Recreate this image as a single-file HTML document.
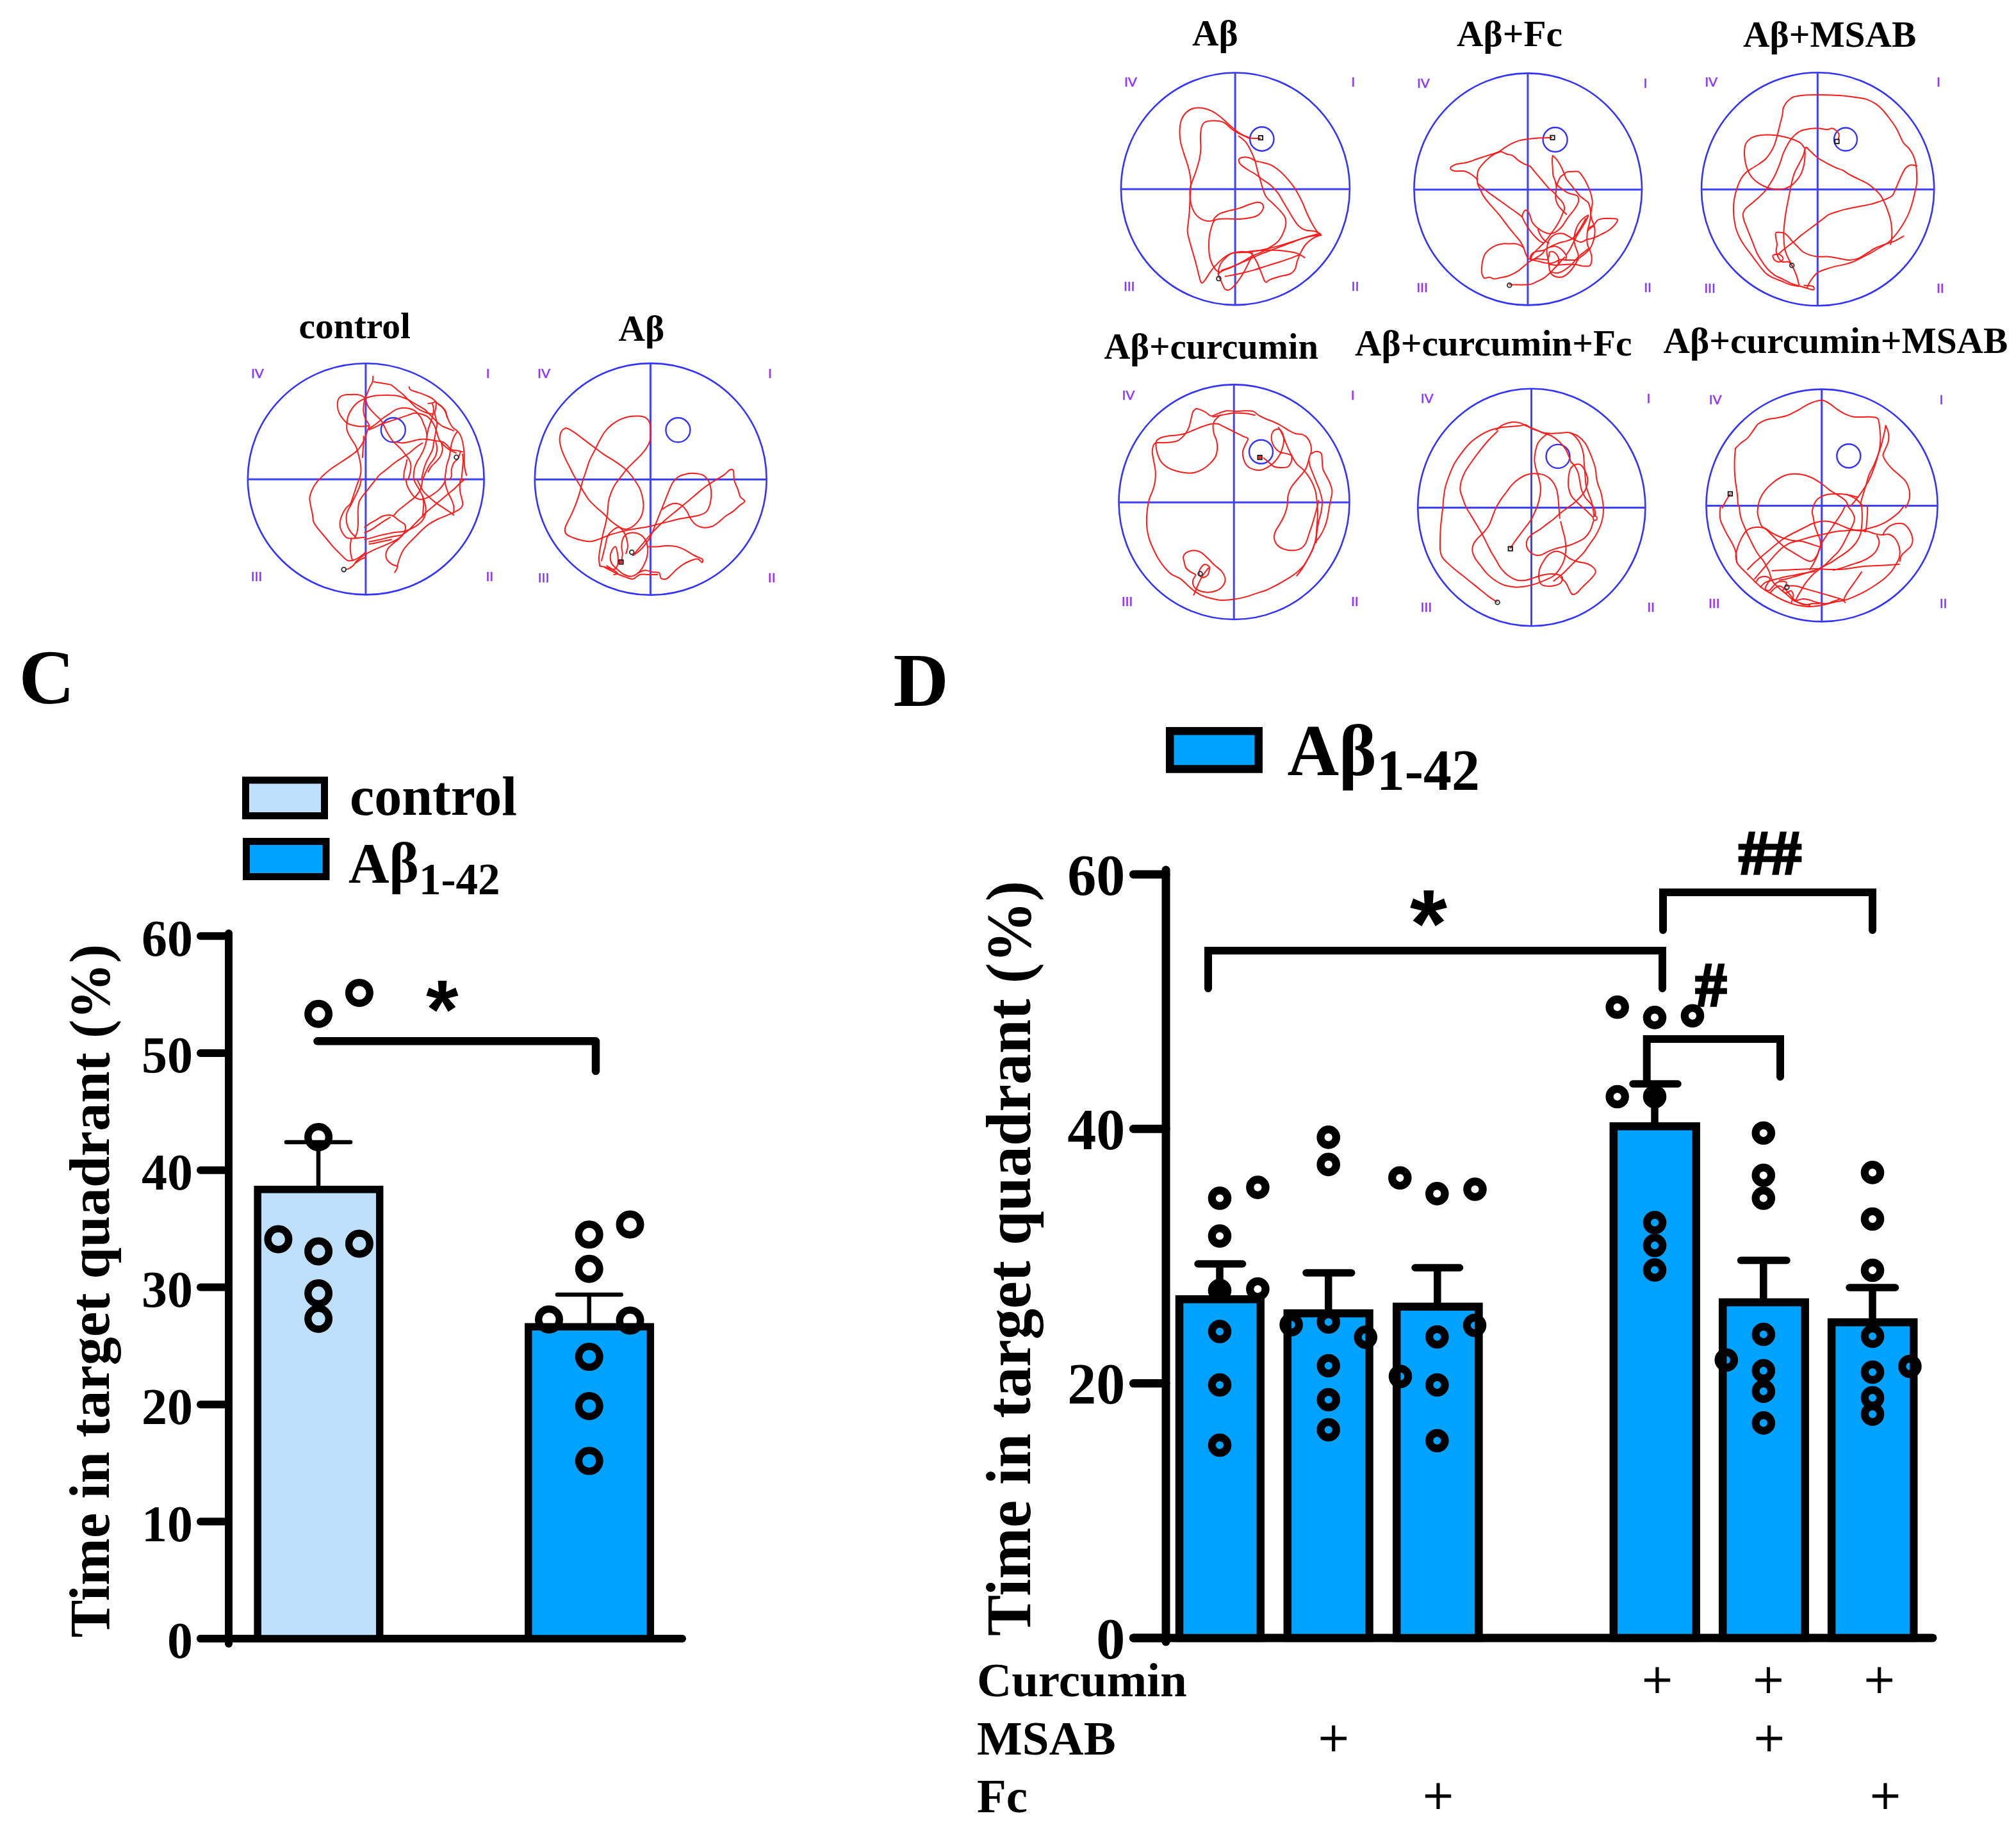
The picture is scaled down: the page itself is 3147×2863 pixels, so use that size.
<!DOCTYPE html>
<html lang="en"><head><meta charset="utf-8"><title>Figure</title>
<style>
html,body{margin:0;padding:0;background:#fff;}
body{width:3147px;height:2863px;overflow:hidden;}
svg{display:block;}
.sf{font-family:"Liberation Serif", "DejaVu Serif", serif;}
.ss{font-family:"Liberation Sans", "DejaVu Sans", sans-serif;}
</style></head><body>
<svg width="3147" height="2863" viewBox="0 0 3147 2863">
<rect width="3147" height="2863" fill="#fff"/>
<g id="mazes">
<g class="maze">
<ellipse cx="571.2" cy="747.8" rx="184.4" ry="180.6" fill="none" stroke="#3333ff" stroke-width="2.6"/>
<path d="M386.80000000000007,748.3H755.6M570.9000000000001,567.1999999999999V928.4" stroke="#4040ff" stroke-width="3.0" fill="none"/>
<circle cx="613.8" cy="671.3" r="19" fill="none" stroke="#3333ff" stroke-width="2.4"/>
<path d="M582.3,587.4C582.2,588.8 582.3,593.1 581.5,596.0C580.6,598.9 578.6,601.5 577.1,604.7C575.7,607.9 574.1,612.0 572.8,615.1C571.5,618.3 570.2,620.6 569.3,623.8C568.4,627.0 567.9,630.8 567.6,634.2C567.3,637.7 567.0,641.2 567.6,644.7C568.1,648.1 569.6,651.9 571.0,655.1C572.5,658.3 576.0,660.6 576.2,663.8C576.5,666.9 573.9,670.7 572.8,674.2C571.6,677.6 570.8,681.1 569.3,684.6C567.9,688.1 566.1,691.8 564.1,695.0C562.1,698.2 559.8,701.1 557.2,703.7C554.5,706.3 551.7,708.3 548.5,710.6C545.3,712.9 541.5,715.3 538.1,717.6C534.6,719.9 531.1,722.2 527.6,724.5C524.2,726.8 520.7,728.9 517.2,731.5C513.8,734.1 510.0,737.2 506.8,740.1C503.6,743.0 499.6,747.4 498.1,748.8" fill="none" stroke="#ff1a1a" stroke-width="2" stroke-linejoin="round" stroke-linecap="round"/>
<path d="M583.2,596.0C584.9,596.3 590.1,597.2 593.6,597.8C597.1,598.4 601.1,598.9 604.0,599.5C606.9,600.1 608.4,599.8 611.0,601.2C613.6,602.7 616.8,605.9 619.7,608.2C622.5,610.5 625.7,612.8 628.3,615.1C630.9,617.5 633.0,619.8 635.3,622.1C637.6,624.4 639.9,626.7 642.2,629.0C644.5,631.3 646.6,633.9 649.2,636.0C651.8,638.0 655.0,639.7 657.8,641.2C660.7,642.6 663.6,643.8 666.5,644.7C669.4,645.5 673.8,646.1 675.2,646.4" fill="none" stroke="#ff1a1a" stroke-width="2" stroke-linejoin="round" stroke-linecap="round"/>
<path d="M638.8,603.9C639.0,604.6 638.8,606.9 640.5,608.2C642.2,609.5 646.0,610.5 649.2,611.7C652.3,612.8 656.1,613.8 659.6,615.1C663.1,616.4 667.1,618.0 670.0,619.5C672.9,620.9 674.9,622.2 676.9,623.8C679.0,625.4 680.1,627.3 682.2,629.0C684.2,630.8 687.1,632.2 689.1,634.2C691.1,636.3 692.9,638.6 694.3,641.2C695.8,643.8 696.6,647.0 697.8,649.9C698.9,652.8 699.8,655.6 701.2,658.5C702.7,661.4 704.4,664.9 706.5,667.2C708.5,669.5 711.4,670.4 713.4,672.4C715.4,674.5 717.2,676.5 718.6,679.4C720.1,682.3 721.2,686.3 722.1,689.8C723.0,693.3 723.4,696.7 723.8,700.2C724.3,703.7 724.5,707.2 724.7,710.6C724.8,714.1 724.5,717.6 724.7,721.0C724.8,724.5 725.0,728.0 725.6,731.5C726.1,734.9 727.7,740.1 728.2,741.9" fill="none" stroke="#ff1a1a" stroke-width="2" stroke-linejoin="round" stroke-linecap="round"/>
<path d="M571.0,622.1C569.9,621.4 566.4,618.8 564.1,617.7C561.8,616.7 560.0,616.3 557.2,616.0C554.3,615.7 550.2,615.9 546.7,616.0C543.3,616.2 539.2,616.0 536.3,616.9C533.4,617.7 531.0,619.2 529.4,621.2C527.8,623.2 527.1,626.0 526.8,629.0C526.5,632.1 526.9,636.3 527.6,639.4C528.4,642.6 529.7,645.5 531.1,648.1C532.6,650.7 534.6,653.0 536.3,655.1C538.1,657.1 539.2,658.8 541.5,660.3C543.8,661.7 547.3,662.9 550.2,663.8C553.1,664.6 555.7,665.2 558.9,665.5C562.1,665.8 566.4,665.6 569.3,665.5C572.2,665.3 575.1,664.8 576.2,664.6" fill="none" stroke="#ff1a1a" stroke-width="2" stroke-linejoin="round" stroke-linecap="round"/>
<path d="M541.5,660.3C541.8,658.5 542.1,653.3 543.3,649.9C544.4,646.4 546.4,642.6 548.5,639.4C550.5,636.3 552.8,633.2 555.4,630.8C558.0,628.3 560.9,626.4 564.1,624.7C567.3,623.0 571.0,621.5 574.5,620.3C578.0,619.2 581.2,618.3 584.9,617.7C588.7,617.2 593.0,617.0 597.1,616.9C601.1,616.7 605.5,616.7 609.2,616.9C613.0,617.0 616.5,617.2 619.7,617.7C622.8,618.3 625.4,619.3 628.3,620.3C631.2,621.4 634.1,622.4 637.0,623.8C639.9,625.3 642.8,627.3 645.7,629.0C648.6,630.8 651.5,632.5 654.4,634.2C657.3,636.0 660.5,637.4 663.1,639.4C665.7,641.5 667.7,644.1 670.0,646.4C672.3,648.7 674.6,651.0 676.9,653.3C679.3,655.6 681.6,658.3 683.9,660.3C686.2,662.3 688.2,664.0 690.8,665.5C693.4,666.9 696.6,667.8 699.5,669.0C702.4,670.1 706.7,671.9 708.2,672.4" fill="none" stroke="#ff1a1a" stroke-width="2" stroke-linejoin="round" stroke-linecap="round"/>
<path d="M541.5,660.3C541.5,662.0 540.9,667.5 541.5,670.7C542.1,673.9 543.6,676.5 545.0,679.4C546.4,682.3 548.5,685.2 550.2,688.1C551.9,690.9 554.0,693.6 555.4,696.7C556.9,699.9 557.9,703.7 558.9,707.2C559.9,710.6 560.8,714.1 561.5,717.6C562.2,721.0 562.9,724.5 563.2,728.0C563.5,731.5 563.7,734.9 563.2,738.4C562.8,741.9 561.1,747.1 560.6,748.8" fill="none" stroke="#ff1a1a" stroke-width="2" stroke-linejoin="round" stroke-linecap="round"/>
<path d="M571.0,625.6C571.6,627.0 572.8,631.3 574.5,634.2C576.2,637.1 579.1,640.3 581.5,642.9C583.8,645.5 586.1,647.5 588.4,649.9C590.7,652.2 593.3,653.9 595.3,656.8C597.4,659.7 598.8,663.8 600.6,667.2C602.3,670.7 603.7,674.2 605.8,677.6C607.8,681.1 610.4,685.2 612.7,688.1C615.0,690.9 617.3,692.7 619.7,695.0C622.0,697.3 624.3,699.3 626.6,701.9C628.9,704.5 631.5,708.0 633.5,710.6C635.6,713.2 637.4,715.0 638.8,717.6C640.1,720.2 641.1,723.1 641.4,726.2C641.6,729.4 641.2,732.9 640.5,736.7C639.8,740.4 637.6,746.8 637.0,748.8" fill="none" stroke="#ff1a1a" stroke-width="2" stroke-linejoin="round" stroke-linecap="round"/>
<path d="M576.2,669.0C578.0,667.8 583.2,664.6 586.7,662.0C590.1,659.4 593.6,655.9 597.1,653.3C600.6,650.7 604.0,648.7 607.5,646.4C611.0,644.1 614.4,641.0 617.9,639.4C621.4,637.9 624.9,637.1 628.3,636.8C631.8,636.6 635.6,637.0 638.8,637.7C641.9,638.4 645.1,639.7 647.4,641.2C649.7,642.6 650.9,644.4 652.6,646.4C654.4,648.4 656.4,650.7 657.8,653.3C659.3,655.9 660.2,659.1 661.3,662.0C662.5,664.9 663.9,667.5 664.8,670.7C665.7,673.9 666.5,677.6 666.5,681.1C666.5,684.6 665.7,688.1 664.8,691.5C663.9,695.0 662.8,698.5 661.3,701.9C659.9,705.4 657.8,709.2 656.1,712.4C654.4,715.5 652.3,718.1 650.9,721.0C649.5,723.9 648.3,726.5 647.4,729.7C646.6,732.9 646.0,737.0 645.7,740.1C645.4,743.3 645.7,747.4 645.7,748.8" fill="none" stroke="#ff1a1a" stroke-width="2" stroke-linejoin="round" stroke-linecap="round"/>
<path d="M576.2,670.7C577.7,670.1 581.7,668.7 584.9,667.2C588.1,665.8 591.9,663.5 595.3,662.0C598.8,660.6 602.3,659.7 605.8,658.5C609.2,657.4 612.7,656.2 616.2,655.1C619.7,653.9 623.1,652.8 626.6,651.6C630.1,650.4 633.5,649.3 637.0,648.1C640.5,647.0 644.0,644.9 647.4,644.7C650.9,644.4 654.7,645.5 657.8,646.4C661.0,647.3 663.9,648.1 666.5,649.9C669.1,651.6 671.4,654.2 673.5,656.8C675.5,659.4 677.2,662.3 678.7,665.5C680.1,668.7 681.0,672.4 682.2,675.9C683.3,679.4 683.9,683.1 685.6,686.3C687.4,689.5 690.0,692.4 692.6,695.0C695.2,697.6 698.1,699.9 701.2,701.9C704.4,704.0 709.9,706.3 711.7,707.2" fill="none" stroke="#ff1a1a" stroke-width="2" stroke-linejoin="round" stroke-linecap="round"/>
<path d="M617.9,689.8C619.7,690.1 624.9,691.5 628.3,691.5C631.8,691.5 635.3,690.5 638.8,689.8C642.2,689.1 645.7,687.9 649.2,687.2C652.6,686.5 656.1,685.6 659.6,685.5C663.1,685.3 666.5,685.9 670.0,686.3C673.5,686.8 676.9,687.5 680.4,688.1C683.9,688.6 687.9,688.6 690.8,689.8C693.7,690.9 695.5,693.0 697.8,695.0C700.1,697.0 701.8,700.5 704.7,701.9C707.6,703.4 712.2,703.1 715.1,703.7C718.0,704.3 720.9,705.1 722.1,705.4" fill="none" stroke="#ff1a1a" stroke-width="2" stroke-linejoin="round" stroke-linecap="round"/>
<path d="M668.3,629.9C669.4,629.8 673.2,629.5 675.2,629.0C677.2,628.6 679.5,626.1 680.4,627.3C681.3,628.4 680.7,633.1 680.4,636.0C680.1,638.9 678.7,641.8 678.7,644.7C678.7,647.5 679.8,650.4 680.4,653.3C681.0,656.2 682.2,658.8 682.2,662.0C682.2,665.2 681.0,669.0 680.4,672.4C679.8,675.9 679.3,679.7 678.7,682.8C678.1,686.0 677.5,688.3 676.9,691.5C676.4,694.7 676.4,698.5 675.2,701.9C674.1,705.4 671.7,708.9 670.0,712.4C668.3,715.8 666.2,719.3 664.8,722.8C663.3,726.2 662.5,728.9 661.3,733.2C660.2,737.5 658.4,746.2 657.8,748.8" fill="none" stroke="#ff1a1a" stroke-width="2" stroke-linejoin="round" stroke-linecap="round"/>
<path d="M675.2,630.8C675.5,632.2 676.9,636.3 676.9,639.4C676.9,642.6 676.1,646.4 675.2,649.9C674.3,653.3 672.9,656.8 671.7,660.3C670.6,663.8 669.1,667.2 668.3,670.7C667.4,674.2 666.8,679.4 666.5,681.1" fill="none" stroke="#ff1a1a" stroke-width="2" stroke-linejoin="round" stroke-linecap="round"/>
<path d="M683.9,630.8C685.0,631.6 688.8,633.9 690.8,636.0C692.9,638.0 694.9,640.3 696.0,642.9C697.2,645.5 697.5,650.2 697.8,651.6" fill="none" stroke="#ff1a1a" stroke-width="2" stroke-linejoin="round" stroke-linecap="round"/>
<path d="M713.4,674.2C712.5,675.6 709.6,679.7 708.2,682.8C706.7,686.0 705.6,689.8 704.7,693.3C703.9,696.7 703.6,700.2 703.0,703.7C702.4,707.2 702.1,710.6 701.2,714.1C700.4,717.6 698.6,721.0 697.8,724.5C696.9,728.0 696.6,730.9 696.0,734.9C695.5,739.0 694.6,746.5 694.3,748.8" fill="none" stroke="#ff1a1a" stroke-width="2" stroke-linejoin="round" stroke-linecap="round"/>
<path d="M718.6,705.4C718.0,707.2 716.9,712.9 715.1,715.8C713.4,718.7 709.9,719.9 708.2,722.8C706.5,725.7 705.3,729.7 704.7,733.2C704.1,736.7 705.3,741.0 704.7,743.6C704.1,746.2 701.8,748.0 701.2,748.8" fill="none" stroke="#ff1a1a" stroke-width="2" stroke-linejoin="round" stroke-linecap="round"/>
<path d="M680.4,689.8C680.7,691.5 682.2,696.7 682.2,700.2C682.2,703.7 681.6,707.4 680.4,710.6C679.3,713.8 676.9,716.7 675.2,719.3C673.5,721.9 671.7,723.4 670.0,726.2C668.3,729.1 666.5,732.9 664.8,736.7C663.1,740.4 660.5,746.8 659.6,748.8" fill="none" stroke="#ff1a1a" stroke-width="2" stroke-linejoin="round" stroke-linecap="round"/>
<path d="M659.6,691.5C657.8,692.7 652.6,695.9 649.2,698.5C645.7,701.1 642.2,704.5 638.8,707.2C635.3,709.8 631.8,711.8 628.3,714.1C624.9,716.4 621.1,718.7 617.9,721.0C614.7,723.4 612.1,725.7 609.2,728.0C606.3,730.3 603.4,732.6 600.6,734.9C597.7,737.2 594.2,739.6 591.9,741.9C589.6,744.2 587.5,747.7 586.7,748.8" fill="none" stroke="#ff1a1a" stroke-width="2" stroke-linejoin="round" stroke-linecap="round"/>
<path d="M689.1,691.5C689.4,693.3 691.1,698.5 690.8,701.9C690.5,705.4 689.1,709.2 687.4,712.4C685.6,715.5 682.7,718.4 680.4,721.0C678.1,723.6 675.5,725.4 673.5,728.0C671.4,730.6 669.1,735.2 668.3,736.7" fill="none" stroke="#ff1a1a" stroke-width="2" stroke-linejoin="round" stroke-linecap="round"/>
<path d="M630.1,748.8C630.2,746.8 630.4,740.4 630.9,736.7C631.5,732.9 632.8,729.4 633.5,726.2C634.3,723.1 635.0,719.0 635.3,717.6" fill="none" stroke="#ff1a1a" stroke-width="2" stroke-linejoin="round" stroke-linecap="round"/>
<path d="M567.6,681.1C567.6,682.8 567.7,688.1 567.6,691.5C567.4,695.0 567.0,698.2 566.7,701.9C566.4,705.7 566.0,712.1 565.8,714.1" fill="none" stroke="#ff1a1a" stroke-width="2" stroke-linejoin="round" stroke-linecap="round"/>
<path d="M722.1,708.9C722.2,710.6 723.0,715.8 723.0,719.3C723.0,722.8 722.4,726.2 722.1,729.7C721.8,733.2 721.5,737.0 721.2,740.1C720.9,743.3 720.5,747.4 720.3,748.8" fill="none" stroke="#ff1a1a" stroke-width="2" stroke-linejoin="round" stroke-linecap="round"/>
<path d="M498.1,748.1C497.0,749.6 493.2,753.9 491.2,757.2C489.2,760.4 487.3,764.1 486.0,767.6C484.7,771.0 483.5,774.2 483.4,778.0C483.2,781.7 484.4,786.1 485.1,790.1C485.8,794.2 487.0,798.2 487.7,802.3C488.4,806.3 488.3,811.0 489.4,814.4C490.6,817.9 492.3,819.9 494.7,823.1C497.0,826.3 500.4,830.1 503.3,833.5C506.2,837.0 509.1,840.5 512.0,844.0C514.9,847.4 517.8,851.2 520.7,854.4C523.6,857.6 526.5,860.2 529.4,863.1C532.3,865.9 535.7,869.7 538.1,871.7C540.4,873.8 540.9,874.8 543.3,875.2C545.6,875.6 549.1,875.2 551.9,874.3C554.8,873.5 558.0,871.6 560.6,870.0C563.2,868.4 565.8,866.2 567.6,864.8C569.3,863.3 570.5,861.9 571.0,861.3" fill="none" stroke="#ff1a1a" stroke-width="2" stroke-linejoin="round" stroke-linecap="round"/>
<path d="M560.6,748.1C560.0,749.6 558.3,753.9 557.2,757.2C556.0,760.4 554.8,764.1 553.7,767.6C552.5,771.0 551.4,774.8 550.2,778.0C549.1,781.2 548.5,784.1 546.7,786.7C545.0,789.3 541.8,791.0 539.8,793.6C537.8,796.2 536.0,799.1 534.6,802.3C533.1,805.5 531.7,809.2 531.1,812.7C530.5,816.2 530.5,819.9 531.1,823.1C531.7,826.3 532.8,829.1 534.6,831.8C536.3,834.6 538.6,838.2 541.5,839.6C544.4,841.1 548.5,840.5 551.9,840.5C555.4,840.5 559.5,839.9 562.4,839.6C565.3,839.3 568.1,838.9 569.3,838.8" fill="none" stroke="#ff1a1a" stroke-width="2" stroke-linejoin="round" stroke-linecap="round"/>
<path d="M564.1,748.1C563.7,749.9 562.7,755.4 561.5,758.9C560.3,762.4 558.7,765.8 557.2,769.3C555.6,772.8 553.7,776.2 551.9,779.7C550.2,783.2 548.5,786.7 546.7,790.1C545.0,793.6 542.5,796.8 541.5,800.6C540.5,804.3 540.4,808.9 540.7,812.7C540.9,816.5 542.0,819.9 543.3,823.1C544.6,826.3 546.4,829.2 548.5,831.8C550.5,834.4 554.3,837.6 555.4,838.8" fill="none" stroke="#ff1a1a" stroke-width="2" stroke-linejoin="round" stroke-linecap="round"/>
<path d="M586.7,748.1C585.5,749.6 582.0,754.2 579.7,757.2C577.4,760.1 575.1,762.9 572.8,765.8C570.5,768.7 567.9,771.6 565.8,774.5C563.8,777.4 561.8,779.7 560.6,783.2C559.5,786.7 559.2,791.3 558.9,795.3C558.6,799.4 558.9,803.4 558.9,807.5C558.9,811.6 559.2,815.6 558.9,819.7C558.6,823.7 558.0,828.6 557.2,831.8C556.3,835.0 554.3,837.6 553.7,838.8" fill="none" stroke="#ff1a1a" stroke-width="2" stroke-linejoin="round" stroke-linecap="round"/>
<path d="M569.3,823.1C570.5,822.3 573.4,819.8 576.2,817.9C579.1,816.0 583.2,813.9 586.7,811.8C590.1,809.8 593.6,807.1 597.1,805.8C600.6,804.5 604.6,804.0 607.5,804.0C610.4,804.0 611.8,804.3 614.4,805.8C617.0,807.2 620.2,810.5 623.1,812.7C626.0,814.9 630.2,816.5 631.8,818.8C633.4,821.1 633.3,823.8 632.7,826.6C632.1,829.3 630.5,832.7 628.3,835.3C626.2,837.9 622.8,840.2 619.7,842.2C616.5,844.2 613.0,845.7 609.2,847.4C605.5,849.2 601.1,850.9 597.1,852.6C593.0,854.4 588.7,856.1 584.9,857.8C581.2,859.6 577.7,861.3 574.5,863.1C571.3,864.8 568.7,866.2 565.8,868.3C562.9,870.3 559.5,872.9 557.2,875.2C554.8,877.5 554.0,880.1 551.9,882.2C549.9,884.2 547.0,886.2 545.0,887.4C543.0,888.5 540.7,888.8 539.8,889.1" fill="none" stroke="#ff1a1a" stroke-width="2" stroke-linejoin="round" stroke-linecap="round"/>
<path d="M614.4,804.9C615.6,803.6 618.8,799.5 621.4,797.1C624.0,794.6 627.2,792.5 630.1,790.1C633.0,787.8 635.9,785.5 638.8,783.2C641.6,780.9 644.8,778.9 647.4,776.2C650.0,773.6 652.6,770.5 654.4,767.6C656.1,764.7 657.0,762.1 657.8,758.9C658.7,755.6 659.3,749.9 659.6,748.1" fill="none" stroke="#ff1a1a" stroke-width="2" stroke-linejoin="round" stroke-linecap="round"/>
<path d="M569.3,831.8C571.0,830.9 576.2,828.6 579.7,826.6C583.2,824.6 586.7,822.0 590.1,819.7C593.6,817.3 597.4,814.7 600.6,812.7C603.7,810.7 607.8,808.4 609.2,807.5" fill="none" stroke="#ff1a1a" stroke-width="2" stroke-linejoin="round" stroke-linecap="round"/>
<path d="M569.3,842.2C571.0,841.8 576.0,840.6 579.7,839.6C583.5,838.6 587.8,837.2 591.9,836.1C595.9,835.1 600.0,834.4 604.0,833.5C608.1,832.7 612.1,831.5 616.2,830.9C620.2,830.4 624.6,830.8 628.3,830.1C632.1,829.3 635.3,828.0 638.8,826.6C642.2,825.2 646.0,823.4 649.2,821.4C652.3,819.4 655.5,817.0 657.8,814.4C660.2,811.8 661.9,808.9 663.1,805.8C664.2,802.6 664.8,798.8 664.8,795.3C664.8,791.9 663.9,788.4 663.1,784.9C662.2,781.5 661.0,778.0 659.6,774.5C658.1,771.0 656.1,767.3 654.4,764.1C652.6,760.9 650.6,758.1 649.2,755.4C647.7,752.8 646.3,749.3 645.7,748.1" fill="none" stroke="#ff1a1a" stroke-width="2" stroke-linejoin="round" stroke-linecap="round"/>
<path d="M576.2,845.7C578.6,845.3 585.5,844.1 590.1,843.1C594.8,842.1 599.7,840.6 604.0,839.6C608.4,838.6 612.4,837.7 616.2,837.0C619.9,836.3 623.1,836.7 626.6,835.3C630.1,833.8 633.5,831.2 637.0,828.3C640.5,825.4 644.0,821.4 647.4,817.9C650.9,814.4 654.4,811.0 657.8,807.5C661.3,804.0 664.8,800.3 668.3,797.1C671.7,793.9 675.2,791.3 678.7,788.4C682.2,785.5 685.6,782.6 689.1,779.7C692.6,776.8 696.0,773.9 699.5,771.0C703.0,768.1 706.7,765.3 709.9,762.4C713.1,759.5 716.0,756.1 718.6,753.7C721.2,751.3 724.4,749.1 725.6,748.1" fill="none" stroke="#ff1a1a" stroke-width="2" stroke-linejoin="round" stroke-linecap="round"/>
<path d="M633.5,748.1C633.8,749.6 634.1,753.9 635.3,757.2C636.4,760.4 638.5,764.4 640.5,767.6C642.5,770.8 644.5,774.2 647.4,776.2C650.3,778.3 654.4,779.7 657.8,779.7C661.3,779.7 665.1,777.7 668.3,776.2C671.4,774.8 674.1,773.1 676.9,771.0C679.8,769.0 683.0,766.7 685.6,764.1C688.2,761.5 690.8,758.1 692.6,755.4C694.3,752.8 695.5,749.3 696.0,748.1" fill="none" stroke="#ff1a1a" stroke-width="2" stroke-linejoin="round" stroke-linecap="round"/>
<path d="M650.9,748.1C651.8,749.9 654.4,755.6 656.1,758.9C657.8,762.1 659.0,764.7 661.3,767.6C663.6,770.5 666.8,773.4 670.0,776.2C673.2,779.1 676.9,782.3 680.4,784.9C683.9,787.5 687.4,789.6 690.8,791.9C694.3,794.2 698.4,796.8 701.2,798.8C704.1,800.8 707.0,803.2 708.2,804.0" fill="none" stroke="#ff1a1a" stroke-width="2" stroke-linejoin="round" stroke-linecap="round"/>
<path d="M718.6,748.1C718.5,749.9 717.7,755.4 717.7,758.9C717.7,762.4 718.0,765.8 718.6,769.3C719.2,772.8 720.6,776.5 721.2,779.7C721.8,782.9 722.8,785.8 722.1,788.4C721.4,791.0 719.5,793.3 716.9,795.3C714.3,797.4 710.2,798.8 706.5,800.6C702.7,802.3 698.4,804.0 694.3,805.8C690.3,807.5 686.2,808.9 682.2,811.0C678.1,813.0 673.8,815.3 670.0,817.9C666.2,820.5 663.1,823.4 659.6,826.6C656.1,829.8 652.6,833.5 649.2,837.0C645.7,840.5 641.9,844.0 638.8,847.4C635.6,850.9 632.4,854.4 630.1,857.8C627.8,861.3 626.3,864.8 624.9,868.3C623.4,871.7 622.3,875.5 621.4,878.7C620.5,881.9 620.5,884.9 619.7,887.4C618.8,889.8 616.8,892.4 616.2,893.4" fill="none" stroke="#ff1a1a" stroke-width="2" stroke-linejoin="round" stroke-linecap="round"/>
<path d="M694.3,748.1C694.6,749.9 695.2,755.4 696.0,758.9C696.9,762.4 698.1,765.8 699.5,769.3C701.0,772.8 703.3,776.2 704.7,779.7C706.2,783.2 707.6,786.7 708.2,790.1C708.8,793.6 708.2,798.8 708.2,800.6" fill="none" stroke="#ff1a1a" stroke-width="2" stroke-linejoin="round" stroke-linecap="round"/>
<path d="M619.7,883.9C618.2,883.3 613.6,882.2 611.0,880.4C608.4,878.7 605.5,876.1 604.0,873.5C602.6,870.9 602.0,867.7 602.3,864.8C602.6,861.9 604.0,858.7 605.8,856.1C607.5,853.5 610.1,851.5 612.7,849.2C615.3,846.9 618.8,844.5 621.4,842.2C624.0,839.9 627.2,836.4 628.3,835.3" fill="none" stroke="#ff1a1a" stroke-width="2" stroke-linejoin="round" stroke-linecap="round"/>
<path d="M548.5,840.5C548.2,842.5 546.9,848.6 546.7,852.6C546.6,856.7 547.0,861.0 547.6,864.8C548.2,868.6 549.8,873.5 550.2,875.2" fill="none" stroke="#ff1a1a" stroke-width="2" stroke-linejoin="round" stroke-linecap="round"/>
<path d="M659.6,774.5C659.9,776.2 661.2,781.2 661.3,784.9C661.5,788.7 660.7,793.3 660.5,797.1C660.2,800.8 659.7,805.8 659.6,807.5" fill="none" stroke="#ff1a1a" stroke-width="2" stroke-linejoin="round" stroke-linecap="round"/>
<path d="M571.0,870.0C569.6,870.6 565.0,872.0 562.4,873.5C559.8,874.9 556.6,877.8 555.4,878.7" fill="none" stroke="#ff1a1a" stroke-width="2" stroke-linejoin="round" stroke-linecap="round"/>
<path d="M576.2,849.2C578.0,848.9 582.9,848.2 586.7,847.4C590.4,846.7 594.8,845.7 598.8,844.8C602.9,844.0 608.9,842.7 611.0,842.2" fill="none" stroke="#ff1a1a" stroke-width="2" stroke-linejoin="round" stroke-linecap="round"/>
<circle cx="712.5" cy="713.8" r="3.4" fill="none" stroke="#233" stroke-width="1.8"/>
<circle cx="536.7" cy="889.1" r="3.4" fill="none" stroke="#233" stroke-width="1.8"/>
<text class="ss" x="401.8" y="589.7" font-size="21" font-weight="normal" text-anchor="middle" fill="#8a2eff" stroke="#8a2eff" stroke-width="0.5">IV</text>
<text class="ss" x="761.6" y="589.7" font-size="21" font-weight="normal" text-anchor="middle" fill="#8a2eff" stroke="#8a2eff" stroke-width="0.5">I</text>
<text class="ss" x="400.4" y="907.2" font-size="21" font-weight="normal" text-anchor="middle" fill="#8a2eff" stroke="#8a2eff" stroke-width="0.5">III</text>
<text class="ss" x="764.3" y="907.2" font-size="21" font-weight="normal" text-anchor="middle" fill="#8a2eff" stroke="#8a2eff" stroke-width="0.5">II</text>
</g>
<g class="maze">
<ellipse cx="1015.7" cy="748.0" rx="180.9" ry="180.9" fill="none" stroke="#3333ff" stroke-width="2.6"/>
<path d="M834.8000000000001,748.5H1196.6000000000001M1015.4000000000001,567.1V928.9" stroke="#4040ff" stroke-width="3.0" fill="none"/>
<circle cx="1058.4" cy="671.3" r="19" fill="none" stroke="#3333ff" stroke-width="2.4"/>
<path d="M1015.3,673.5C1015.1,671.2 1015.3,663.5 1014.0,659.9C1012.6,656.2 1010.1,653.4 1007.1,651.7C1004.2,650.0 1000.3,649.7 996.2,649.5C992.2,649.3 987.2,649.5 982.6,650.3C978.1,651.1 973.5,652.4 969.0,654.4C964.4,656.5 959.4,659.4 955.4,662.6C951.3,665.8 947.6,669.4 944.5,673.5C941.3,677.6 939.0,682.1 936.3,687.1C933.6,692.1 930.8,698.0 928.1,703.5C925.4,708.9 922.2,714.4 919.9,719.8C917.7,725.3 916.3,730.7 914.5,736.2C912.7,741.6 910.6,747.1 909.0,752.5C907.4,758.0 906.5,763.4 904.9,768.9C903.3,774.3 901.5,779.8 899.5,785.2C897.4,790.7 894.9,796.6 892.7,801.6C890.4,806.6 887.7,811.1 885.9,815.2C884.0,819.3 882.0,822.9 881.8,826.1C881.5,829.3 882.2,832.0 884.5,834.3C886.8,836.6 891.3,838.2 895.4,839.8C899.5,841.3 904.5,842.9 909.0,843.8C913.6,844.7 918.1,845.7 922.6,845.2C927.2,844.7 931.7,842.7 936.3,841.1C940.8,839.5 945.4,837.3 949.9,835.7C954.4,834.1 958.5,832.9 963.5,831.6C968.5,830.2 974.4,828.6 979.9,827.5C985.3,826.4 990.8,825.7 996.2,824.8C1001.7,823.9 1007.1,823.2 1012.6,822.0C1018.0,820.9 1023.5,819.3 1028.9,817.9C1034.4,816.6 1039.8,815.2 1045.3,813.9C1050.7,812.5 1056.2,810.9 1061.7,809.8C1067.1,808.6 1073.0,808.0 1078.0,807.0C1083.0,806.1 1087.5,805.7 1091.6,804.3C1095.7,803.0 1099.8,801.6 1102.5,798.9C1105.3,796.1 1106.7,792.1 1108.0,788.0C1109.3,783.9 1109.9,778.9 1110.2,774.3C1110.4,769.8 1110.2,764.8 1109.3,760.7C1108.5,756.6 1107.3,753.0 1105.3,749.8C1103.2,746.6 1100.7,743.4 1097.1,741.6C1093.4,739.8 1088.0,739.1 1083.5,738.9C1078.9,738.7 1073.9,739.4 1069.8,740.3C1065.7,741.2 1062.1,742.3 1058.9,744.4C1055.7,746.4 1053.0,749.4 1050.7,752.5C1048.5,755.7 1047.1,759.3 1045.3,763.4C1043.5,767.5 1041.7,772.5 1039.8,777.1C1038.0,781.6 1036.2,786.1 1034.4,790.7C1032.6,795.2 1030.8,799.8 1028.9,804.3C1027.1,808.9 1025.3,813.4 1023.5,817.9C1021.7,822.5 1019.9,827.5 1018.0,831.6C1016.2,835.7 1014.9,838.8 1012.6,842.5C1010.3,846.1 1007.1,850.2 1004.4,853.4C1001.7,856.6 999.0,859.3 996.2,861.6C993.5,863.8 989.4,866.1 988.1,867.0" fill="none" stroke="#ff1a1a" stroke-width="2" stroke-linejoin="round" stroke-linecap="round"/>
<path d="M1015.3,673.5C1015.2,675.8 1015.7,683.0 1014.8,687.1C1013.9,691.2 1012.0,694.4 1009.9,698.0C1007.7,701.7 1004.9,705.3 1001.7,708.9C998.5,712.6 994.4,716.2 990.8,719.8C987.2,723.5 983.5,726.6 979.9,730.7C976.3,734.8 972.2,740.3 969.0,744.4C965.8,748.4 963.3,751.2 960.8,755.3C958.3,759.3 955.8,764.3 954.0,768.9C952.2,773.4 950.8,777.5 949.9,782.5C949.0,787.5 949.2,793.4 948.5,798.9C947.9,804.3 947.0,809.8 945.8,815.2C944.7,820.7 942.9,826.6 941.7,831.6C940.6,836.6 939.9,840.7 939.0,845.2C938.1,849.7 937.0,854.3 936.3,858.8C935.6,863.4 934.9,868.4 934.9,872.5C934.9,876.5 936.0,881.5 936.3,883.4" fill="none" stroke="#ff1a1a" stroke-width="2" stroke-linejoin="round" stroke-linecap="round"/>
<path d="M883.1,668.0C882.0,669.0 877.9,670.3 876.3,673.5C874.7,676.7 873.6,682.6 873.6,687.1C873.6,691.7 875.0,696.2 876.3,700.7C877.7,705.3 879.7,709.8 881.8,714.4C883.8,718.9 886.3,723.5 888.6,728.0C890.9,732.5 892.9,737.1 895.4,741.6C897.9,746.2 900.8,750.7 903.6,755.3C906.3,759.8 909.0,764.6 911.7,768.9C914.5,773.2 916.7,777.3 919.9,781.2C923.1,785.0 927.2,788.6 930.8,792.1C934.5,795.5 938.1,798.2 941.7,801.6C945.4,805.0 949.0,809.3 952.6,812.5C956.3,815.7 959.9,818.4 963.5,820.7C967.2,822.9 970.8,825.7 974.4,826.1C978.1,826.6 981.9,825.2 985.3,823.4C988.7,821.6 992.2,818.4 994.9,815.2C997.6,812.0 1000.1,808.4 1001.7,804.3C1003.3,800.2 1004.2,795.2 1004.4,790.7C1004.6,786.1 1004.0,781.6 1003.1,777.1C1002.1,772.5 1001.0,768.0 999.0,763.4C996.9,758.9 993.5,753.9 990.8,749.8C988.1,745.7 985.3,742.1 982.6,738.9C979.9,735.7 977.6,733.5 974.4,730.7C971.3,728.0 967.2,725.1 963.5,722.6C959.9,720.1 956.3,718.0 952.6,715.7C949.0,713.5 945.4,711.4 941.7,708.9C938.1,706.4 934.5,703.5 930.8,700.7C927.2,698.0 923.6,695.3 919.9,692.6C916.3,689.8 912.7,687.1 909.0,684.4C905.4,681.7 901.8,678.7 898.1,676.2C894.5,673.7 889.7,670.8 887.2,669.4C884.7,668.0 883.8,668.3 883.1,668.0" fill="none" stroke="#ff1a1a" stroke-width="2" stroke-linejoin="round" stroke-linecap="round"/>
<path d="M988.1,867.0C990.3,864.3 996.7,856.6 1001.7,850.7C1006.7,844.7 1012.6,837.5 1018.0,831.6C1023.5,825.7 1028.9,820.2 1034.4,815.2C1039.8,810.2 1045.3,806.1 1050.7,801.6C1056.2,797.1 1061.7,792.5 1067.1,788.0C1072.6,783.4 1078.0,778.9 1083.5,774.3C1088.9,769.8 1094.4,764.8 1099.8,760.7C1105.3,756.6 1111.2,753.0 1116.2,749.8C1121.2,746.6 1125.9,744.4 1129.8,741.6C1133.7,738.9 1136.8,734.6 1139.3,733.5C1141.8,732.3 1143.6,732.1 1144.8,734.8C1145.9,737.5 1145.0,745.0 1146.1,749.8C1147.3,754.6 1150.0,759.1 1151.6,763.4C1153.2,767.8 1153.9,772.5 1155.7,775.7C1157.5,778.9 1162.7,780.2 1162.5,782.5C1162.3,784.8 1157.5,786.6 1154.3,789.3C1151.1,792.1 1147.1,796.1 1143.4,798.9C1139.8,801.6 1136.1,803.0 1132.5,805.7C1128.9,808.4 1125.2,812.5 1121.6,815.2C1118.0,817.9 1114.8,820.7 1110.7,822.0C1106.6,823.4 1101.2,823.9 1097.1,823.4C1093.0,822.9 1089.4,821.6 1086.2,819.3C1083.0,817.0 1080.3,813.2 1078.0,809.8C1075.7,806.4 1074.8,802.3 1072.6,798.9C1070.3,795.5 1067.6,791.5 1064.4,789.3C1061.2,787.1 1057.1,785.8 1053.5,785.8C1049.8,785.8 1045.8,787.8 1042.6,789.3C1039.4,790.8 1035.8,793.9 1034.4,794.8" fill="none" stroke="#ff1a1a" stroke-width="2" stroke-linejoin="round" stroke-linecap="round"/>
<path d="M936.3,883.4C938.1,883.8 943.5,885.2 947.2,886.1C950.8,887.0 955.4,889.3 958.1,888.8C960.8,888.4 962.4,886.1 963.5,883.4C964.7,880.6 964.9,876.1 964.9,872.5C964.9,868.8 964.2,864.7 963.5,861.6C962.9,858.4 962.2,853.8 960.8,853.4C959.4,852.9 956.7,856.1 955.4,858.8C954.0,861.6 952.6,866.1 952.6,869.7C952.6,873.4 953.5,877.5 955.4,880.6C957.2,883.8 960.4,886.1 963.5,888.8C966.7,891.5 970.8,895.2 974.4,897.0C978.1,898.8 981.7,900.2 985.3,899.7C989.0,899.3 993.1,897.0 996.2,894.3C999.4,891.5 1002.1,887.4 1004.4,883.4C1006.7,879.3 1008.7,874.3 1009.9,869.7C1011.0,865.2 1011.7,860.6 1011.2,856.1C1010.8,851.6 1009.2,846.1 1007.1,842.5C1005.1,838.8 1002.1,836.1 999.0,834.3C995.8,832.5 991.7,831.6 988.1,831.6C984.4,831.6 979.9,832.5 977.2,834.3C974.4,836.1 972.8,839.3 971.7,842.5C970.6,845.7 970.3,849.7 970.3,853.4C970.3,857.0 971.7,860.6 971.7,864.3C971.7,867.9 970.6,873.4 970.3,875.2" fill="none" stroke="#ff1a1a" stroke-width="2" stroke-linejoin="round" stroke-linecap="round"/>
<path d="M939.0,875.2C939.9,871.5 942.9,859.7 944.5,853.4C946.0,847.0 946.5,841.3 948.5,837.0C950.6,832.7 953.8,829.8 956.7,827.5C959.7,825.2 963.3,822.7 966.3,823.4C969.2,824.1 972.4,828.4 974.4,831.6C976.5,834.8 977.6,838.8 978.5,842.5C979.4,846.1 980.1,849.7 979.9,853.4C979.7,857.0 977.6,862.5 977.2,864.3" fill="none" stroke="#ff1a1a" stroke-width="2" stroke-linejoin="round" stroke-linecap="round"/>
<path d="M1012.6,853.4C1014.9,853.4 1021.7,853.6 1026.2,853.4C1030.8,853.2 1034.9,852.0 1039.8,852.0C1044.8,852.0 1051.2,852.2 1056.2,853.4C1061.2,854.5 1065.3,856.6 1069.8,858.8C1074.4,861.1 1079.6,865.0 1083.5,867.0C1087.3,869.1 1090.7,870.0 1093.0,871.1C1095.3,872.2 1096.6,872.7 1097.1,873.8C1097.5,875.0 1097.1,878.1 1095.7,877.9C1094.4,877.7 1091.9,872.9 1088.9,872.5C1086.0,872.0 1081.6,873.8 1078.0,875.2C1074.4,876.5 1070.7,878.4 1067.1,880.6C1063.5,882.9 1059.4,886.1 1056.2,888.8C1053.0,891.5 1050.7,894.5 1048.0,897.0C1045.3,899.5 1042.6,902.9 1039.8,903.8C1037.1,904.7 1033.5,904.0 1031.7,902.4C1029.9,900.8 1031.2,895.9 1028.9,894.3C1026.7,892.7 1021.7,893.6 1018.0,892.9C1014.4,892.2 1010.8,889.9 1007.1,890.2C1003.5,890.4 998.1,893.6 996.2,894.3" fill="none" stroke="#ff1a1a" stroke-width="2" stroke-linejoin="round" stroke-linecap="round"/>
<path d="M944.5,886.1C946.3,887.0 951.7,889.7 955.4,891.5C959.0,893.4 962.6,895.4 966.3,897.0C969.9,898.6 973.5,899.9 977.2,901.1C980.8,902.2 984.4,904.5 988.1,903.8C991.7,903.1 994.9,898.1 999.0,897.0C1003.1,895.9 1008.0,897.0 1012.6,897.0C1017.1,897.0 1023.9,897.0 1026.2,897.0" fill="none" stroke="#ff1a1a" stroke-width="2" stroke-linejoin="round" stroke-linecap="round"/>
<path d="M947.2,883.4C949.9,885.2 961.7,892.0 963.5,894.3C965.3,896.5 959.0,896.5 958.1,897.0" fill="none" stroke="#ff1a1a" stroke-width="2" stroke-linejoin="round" stroke-linecap="round"/>
<rect x="967.3" y="875.2" width="4.4" height="4.4" fill="#ff1a1a"/>
<rect x="966.3" y="874.2" width="6.4" height="6.4" fill="none" stroke="#111" stroke-width="1.8"/>
<circle cx="986.2" cy="862.1" r="3.4" fill="none" stroke="#233" stroke-width="1.8"/>
<text class="ss" x="849.0" y="589.7" font-size="21" font-weight="normal" text-anchor="middle" fill="#8a2eff" stroke="#8a2eff" stroke-width="0.5">IV</text>
<text class="ss" x="1202.0" y="589.7" font-size="21" font-weight="normal" text-anchor="middle" fill="#8a2eff" stroke="#8a2eff" stroke-width="0.5">I</text>
<text class="ss" x="848.5" y="908.5" font-size="21" font-weight="normal" text-anchor="middle" fill="#8a2eff" stroke="#8a2eff" stroke-width="0.5">III</text>
<text class="ss" x="1204.7" y="908.5" font-size="21" font-weight="normal" text-anchor="middle" fill="#8a2eff" stroke="#8a2eff" stroke-width="0.5">II</text>
</g>
<g class="maze">
<ellipse cx="1928.4" cy="294.8" rx="178.5" ry="181.3" fill="none" stroke="#3333ff" stroke-width="2.6"/>
<path d="M1749.9,295.3H2106.9M1928.1000000000001,113.5V476.1" stroke="#4040ff" stroke-width="3.0" fill="none"/>
<circle cx="1969.8" cy="217" r="18.7" fill="none" stroke="#3333ff" stroke-width="2.4"/>
<path d="M1967.1,215.9C1965.1,215.9 1958.4,216.2 1955.1,215.9C1951.8,215.5 1950.7,215.0 1947.1,213.7C1943.5,212.5 1937.7,210.4 1933.7,208.4C1929.7,206.4 1926.6,204.4 1923.0,201.7C1919.5,199.0 1915.5,194.5 1912.4,192.4C1909.2,190.3 1907.9,189.8 1904.3,189.2C1900.8,188.5 1895.0,188.3 1891.0,188.6C1887.0,188.9 1882.9,189.3 1880.3,191.0C1877.7,192.8 1876.6,195.3 1875.5,199.0C1874.4,202.8 1874.1,208.2 1873.9,213.7C1873.7,219.3 1874.7,226.6 1874.4,232.4C1874.2,238.2 1873.5,242.7 1872.3,248.5C1871.0,254.3 1868.8,261.4 1866.9,267.2C1865.1,273.0 1862.6,278.7 1861.1,283.2C1859.5,287.6 1858.4,289.4 1857.9,293.9C1857.3,298.3 1857.3,304.8 1857.9,309.9C1858.4,315.0 1859.3,320.2 1861.1,324.6C1862.8,329.1 1865.1,333.4 1868.3,336.6C1871.5,339.9 1876.3,342.8 1880.3,344.1C1884.3,345.4 1889.6,345.4 1892.3,344.6C1895.1,343.8 1894.9,341.2 1896.9,339.3C1898.9,337.4 1900.9,335.1 1904.3,333.4C1907.8,331.7 1912.8,330.5 1917.7,329.1C1922.6,327.8 1928.4,327.1 1933.7,325.4C1939.1,323.8 1944.9,320.9 1949.8,319.3C1954.7,317.7 1959.6,315.8 1963.1,315.8C1966.7,315.8 1969.8,317.3 1971.1,319.3C1972.5,321.2 1972.2,324.6 1971.1,327.3C1970.0,329.9 1967.6,333.2 1964.5,335.3C1961.3,337.4 1957.6,338.7 1952.4,339.8C1947.3,340.9 1940.0,341.7 1933.7,342.0C1927.5,342.2 1920.4,341.4 1915.0,341.4C1909.7,341.4 1905.0,341.3 1901.7,342.0C1898.3,342.6 1896.8,343.0 1895.0,345.2C1893.2,347.4 1892.2,351.4 1891.0,355.3C1889.8,359.2 1888.4,363.8 1887.8,368.7C1887.1,373.6 1886.9,379.4 1887.0,384.7C1887.1,390.1 1887.4,396.1 1888.3,400.7C1889.2,405.4 1890.6,409.2 1892.3,412.8C1894.0,416.3 1896.5,420.1 1898.5,422.1C1900.5,424.1 1903.4,424.3 1904.3,424.8" fill="none" stroke="#ff1a1a" stroke-width="2" stroke-linejoin="round" stroke-linecap="round"/>
<path d="M1949.8,215.9C1947.1,214.4 1938.9,210.5 1933.7,207.1C1928.6,203.6 1923.9,199.3 1919.0,195.0C1914.1,190.8 1909.0,185.3 1904.3,181.7C1899.7,178.0 1895.4,175.3 1891.0,173.1C1886.5,171.0 1882.1,169.6 1877.6,168.8C1873.2,168.1 1868.5,167.8 1864.3,168.8C1860.0,169.9 1855.6,172.0 1852.2,175.0C1848.9,178.0 1846.0,182.3 1844.2,187.0C1842.5,191.7 1841.8,197.3 1841.6,203.0C1841.3,208.8 1841.8,215.5 1842.9,221.7C1844.0,228.0 1846.5,234.7 1848.2,240.4C1850.0,246.2 1852.0,251.1 1853.6,256.5C1855.1,261.8 1856.7,267.2 1857.6,272.5C1858.5,277.9 1858.9,283.2 1858.9,288.5C1859.0,293.9 1858.2,297.9 1857.9,304.6C1857.5,311.2 1857.3,321.5 1856.8,328.6C1856.3,335.7 1855.5,342.0 1854.9,347.3C1854.4,352.7 1853.4,356.2 1853.6,360.7C1853.8,365.1 1854.9,368.7 1856.3,374.0C1857.6,379.4 1859.8,386.5 1861.6,392.7C1863.4,399.0 1865.4,405.6 1866.9,411.4C1868.5,417.2 1869.6,422.6 1870.9,427.5C1872.3,432.4 1873.4,439.0 1875.0,440.8C1876.5,442.6 1877.6,441.3 1880.3,438.2C1883.0,435.0 1887.4,426.8 1891.0,422.1C1894.5,417.4 1898.1,413.7 1901.7,410.1C1905.2,406.5 1908.8,403.2 1912.4,400.7C1915.9,398.3 1918.6,396.7 1923.0,395.4C1927.5,394.1 1933.7,392.7 1939.1,392.7C1944.4,392.7 1952.4,395.0 1955.1,395.4" fill="none" stroke="#ff1a1a" stroke-width="2" stroke-linejoin="round" stroke-linecap="round"/>
<path d="M1933.7,212.4C1935.5,214.0 1941.3,218.0 1944.4,221.7C1947.5,225.5 1950.0,230.2 1952.4,235.1C1954.9,240.0 1957.3,245.8 1959.1,251.1C1960.9,256.5 1961.8,262.3 1963.1,267.2C1964.5,272.1 1965.8,276.1 1967.1,280.5C1968.5,285.0 1969.6,289.4 1971.1,293.9C1972.7,298.3 1973.8,303.2 1976.5,307.2C1979.2,311.2 1983.6,314.4 1987.2,317.9C1990.7,321.5 1994.7,325.1 1997.9,328.6C2001.0,332.2 2004.3,335.7 2005.9,339.3C2007.4,342.9 2007.6,346.0 2007.2,350.0C2006.8,354.0 2005.2,358.9 2003.2,363.3C2001.2,367.8 1998.3,373.1 1995.2,376.7C1992.1,380.3 1988.5,382.0 1984.5,384.7C1980.5,387.4 1976.0,390.3 1971.1,392.7C1966.2,395.2 1960.4,396.7 1955.1,399.4C1949.8,402.1 1944.4,405.9 1939.1,408.8C1933.7,411.7 1928.4,414.3 1923.0,416.8C1917.7,419.2 1910.6,421.7 1907.0,423.5C1903.5,425.2 1902.6,426.8 1901.7,427.5" fill="none" stroke="#ff1a1a" stroke-width="2" stroke-linejoin="round" stroke-linecap="round"/>
<path d="M1959.1,251.1C1957.6,250.3 1953.1,247.2 1949.8,246.3C1946.4,245.4 1941.7,245.2 1939.1,245.8C1936.4,246.4 1934.2,248.0 1933.7,249.8C1933.3,251.6 1934.2,254.0 1936.4,256.5C1938.6,258.9 1943.1,261.8 1947.1,264.5C1951.1,267.2 1956.4,269.8 1960.4,272.5C1964.5,275.2 1967.1,277.6 1971.1,280.5C1975.1,283.4 1980.5,286.3 1984.5,289.9C1988.5,293.4 1992.1,297.7 1995.2,301.9C1998.3,306.1 2000.5,310.8 2003.2,315.3C2005.9,319.7 2008.5,324.2 2011.2,328.6C2013.9,333.1 2016.6,338.0 2019.2,342.0C2021.9,346.0 2024.1,349.8 2027.2,352.7C2030.4,355.6 2033.9,358.0 2037.9,359.3C2041.9,360.7 2047.5,359.8 2051.3,360.7C2055.1,361.6 2059.1,364.0 2060.6,364.7" fill="none" stroke="#ff1a1a" stroke-width="2" stroke-linejoin="round" stroke-linecap="round"/>
<path d="M1959.1,251.1C1961.1,251.6 1966.9,252.7 1971.1,253.8C1975.4,254.9 1980.0,255.6 1984.5,257.8C1988.9,260.0 1993.8,263.8 1997.9,267.2C2001.9,270.5 2005.0,273.8 2008.5,277.9C2012.1,281.9 2016.1,286.8 2019.2,291.2C2022.3,295.7 2024.8,300.1 2027.2,304.6C2029.7,309.0 2031.7,313.0 2033.9,317.9C2036.1,322.8 2038.1,328.6 2040.6,334.0C2043.0,339.3 2046.2,345.5 2048.6,350.0C2051.1,354.4 2053.1,357.8 2055.3,360.7C2057.5,363.6 2060.9,366.2 2062.0,367.4" fill="none" stroke="#ff1a1a" stroke-width="2" stroke-linejoin="round" stroke-linecap="round"/>
<path d="M2062.0,366.6C2058.4,367.1 2047.7,368.3 2040.6,370.0C2033.5,371.7 2026.3,374.5 2019.2,376.7C2012.1,378.9 2005.0,381.4 1997.9,383.4C1990.7,385.4 1983.6,387.2 1976.5,388.7C1969.4,390.3 1961.3,391.8 1955.1,392.7C1948.9,393.6 1944.4,393.6 1939.1,394.1C1933.7,394.5 1927.5,393.8 1923.0,395.4C1918.6,397.0 1915.5,400.3 1912.4,403.4C1909.2,406.5 1906.1,410.1 1904.3,414.1C1902.6,418.1 1901.2,423.0 1901.7,427.5C1902.1,431.9 1905.2,436.8 1907.0,440.8C1908.8,444.8 1910.1,449.7 1912.4,451.5C1914.6,453.3 1917.3,453.3 1920.4,451.5C1923.5,449.7 1927.5,445.3 1931.1,440.8C1934.6,436.4 1938.6,430.1 1941.7,424.8C1944.9,419.4 1947.5,413.2 1949.8,408.8C1952.0,404.3 1954.2,399.9 1955.1,398.1" fill="none" stroke="#ff1a1a" stroke-width="2" stroke-linejoin="round" stroke-linecap="round"/>
<path d="M2062.0,366.6C2059.7,367.6 2052.6,370.1 2048.6,372.7C2044.6,375.3 2041.0,378.3 2037.9,382.0C2034.8,385.8 2032.1,391.0 2029.9,395.4C2027.7,399.9 2025.9,404.8 2024.6,408.8C2023.2,412.8 2023.7,416.3 2021.9,419.4C2020.1,422.6 2017.9,425.5 2013.9,427.5C2009.9,429.5 2003.2,429.9 1997.9,431.5C1992.5,433.0 1985.4,435.3 1981.8,436.8C1978.3,438.4 1977.8,440.6 1976.5,440.8C1975.1,441.0 1975.1,440.8 1973.8,438.2C1972.5,435.5 1970.5,429.7 1968.5,424.8C1966.5,419.9 1964.0,413.2 1961.8,408.8C1959.6,404.3 1957.1,400.7 1955.1,398.1C1953.1,395.4 1950.7,393.6 1949.8,392.7" fill="none" stroke="#ff1a1a" stroke-width="2" stroke-linejoin="round" stroke-linecap="round"/>
<path d="M1939.1,394.1C1942.6,393.6 1952.4,392.0 1960.4,391.4C1968.5,390.8 1979.2,390.5 1987.2,390.6C1995.2,390.7 2002.3,391.4 2008.5,392.2C2014.8,393.0 2019.9,393.8 2024.6,395.4C2029.2,397.1 2034.6,401.0 2036.6,402.1" fill="none" stroke="#ff1a1a" stroke-width="2" stroke-linejoin="round" stroke-linecap="round"/>
<path d="M1912.4,431.5C1915.9,430.8 1926.6,429.0 1933.7,427.5C1940.9,425.9 1948.0,424.1 1955.1,422.1C1962.2,420.1 1969.4,417.7 1976.5,415.4C1983.6,413.2 1991.6,410.8 1997.9,408.8C2004.1,406.8 2009.0,405.2 2013.9,403.4C2018.8,401.6 2025.0,399.0 2027.2,398.1" fill="none" stroke="#ff1a1a" stroke-width="2" stroke-linejoin="round" stroke-linecap="round"/>
<path d="M2059.3,364.7C2055.3,365.8 2042.8,368.9 2035.3,371.4C2027.7,373.8 2021.0,376.7 2013.9,379.4C2006.8,382.0 1999.6,384.7 1992.5,387.4C1985.4,390.1 1978.3,392.5 1971.1,395.4C1964.0,398.3 1956.9,401.6 1949.8,404.8C1942.6,407.9 1935.5,411.2 1928.4,414.1C1921.3,417.0 1910.6,420.8 1907.0,422.1" fill="none" stroke="#ff1a1a" stroke-width="2" stroke-linejoin="round" stroke-linecap="round"/>
<rect x="1964.7" y="211.9" width="6.4" height="6.4" fill="none" stroke="#111" stroke-width="1.8"/>
<circle cx="1902.5" cy="434.9" r="3.4" fill="none" stroke="#233" stroke-width="1.8"/>
<text class="ss" x="1764.9" y="135.2" font-size="21" font-weight="normal" text-anchor="middle" fill="#8a2eff" stroke="#8a2eff" stroke-width="0.5">IV</text>
<text class="ss" x="2112.2" y="135.2" font-size="21" font-weight="normal" text-anchor="middle" fill="#8a2eff" stroke="#8a2eff" stroke-width="0.5">I</text>
<text class="ss" x="1762.7" y="454.2" font-size="21" font-weight="normal" text-anchor="middle" fill="#8a2eff" stroke="#8a2eff" stroke-width="0.5">III</text>
<text class="ss" x="2115.4" y="454.2" font-size="21" font-weight="normal" text-anchor="middle" fill="#8a2eff" stroke="#8a2eff" stroke-width="0.5">II</text>
</g>
<g class="maze">
<ellipse cx="2385.2" cy="295.4" rx="177.8" ry="181.0" fill="none" stroke="#3333ff" stroke-width="2.6"/>
<path d="M2207.3999999999996,295.9H2563.0M2384.8999999999996,114.39999999999998V476.4" stroke="#4040ff" stroke-width="3.0" fill="none"/>
<circle cx="2427.6" cy="218" r="19" fill="none" stroke="#3333ff" stroke-width="2.4"/>
<path d="M2422.1,214.8C2419.6,214.9 2412.8,215.0 2407.1,215.3C2401.4,215.6 2393.9,216.0 2388.0,216.7C2382.1,217.4 2376.7,218.0 2371.7,219.4C2366.7,220.8 2362.2,222.8 2358.1,224.9C2354.0,226.9 2350.3,229.6 2347.2,231.7C2344.0,233.7 2343.1,235.3 2339.0,237.1C2334.9,238.9 2328.1,240.8 2322.6,242.6C2317.2,244.4 2311.7,246.2 2306.3,248.0C2300.8,249.8 2295.4,252.1 2289.9,253.5C2284.5,254.8 2277.7,255.1 2273.6,256.2C2269.5,257.3 2266.8,258.9 2265.4,260.3C2263.9,261.7 2263.9,263.2 2264.8,264.4C2265.8,265.5 2267.6,266.6 2270.8,267.1C2274.1,267.6 2280.8,266.6 2284.5,267.1C2288.1,267.6 2289.9,268.5 2292.6,269.8C2295.4,271.2 2298.6,273.5 2300.8,275.3C2303.1,277.1 2305.4,279.8 2306.3,280.7" fill="none" stroke="#ff1a1a" stroke-width="2" stroke-linejoin="round" stroke-linecap="round"/>
<path d="M2343.2,236.5C2341.4,237.2 2336.0,238.7 2332.7,240.5C2329.4,242.2 2326.6,244.4 2323.6,247.0C2320.5,249.6 2317.0,253.1 2314.4,256.2C2311.8,259.2 2309.3,262.1 2307.9,265.3C2306.4,268.6 2306.1,272.3 2305.9,275.8C2305.7,279.3 2305.8,283.0 2306.5,286.3C2307.3,289.5 2308.9,292.2 2310.5,295.4C2312.0,298.7 2313.5,302.4 2315.7,305.9C2317.9,309.4 2320.7,312.9 2323.6,316.4C2326.4,319.9 2329.7,323.3 2332.7,326.8C2335.8,330.3 2339.0,333.8 2341.9,337.3C2344.7,340.8 2347.1,344.3 2349.7,347.8C2352.3,351.3 2355.0,355.0 2357.6,358.2C2360.2,361.5 2363.0,364.6 2365.4,367.4C2367.8,370.2 2370.2,372.9 2372.0,375.2C2373.7,377.6 2374.8,379.8 2375.9,381.8C2377.0,383.8 2377.6,384.8 2378.5,387.0C2379.4,389.2 2380.0,392.3 2381.1,394.9C2382.2,397.5 2383.3,400.9 2385.1,402.7C2386.8,404.6 2390.5,405.5 2391.6,406.0" fill="none" stroke="#ff1a1a" stroke-width="2" stroke-linejoin="round" stroke-linecap="round"/>
<path d="M2343.2,236.5C2344.7,237.2 2349.3,239.4 2352.3,240.5C2355.4,241.6 2358.4,241.3 2361.5,243.1C2364.6,244.8 2367.6,248.8 2370.7,250.9C2373.7,253.1 2376.8,254.6 2379.8,256.2C2382.9,257.7 2386.4,258.1 2389.0,260.1C2391.6,262.1 2393.1,265.1 2395.5,267.9C2397.9,270.8 2400.8,274.1 2403.4,277.1C2406.0,280.2 2408.8,283.4 2411.2,286.3C2413.6,289.1 2415.6,291.9 2417.8,294.1C2420.0,296.3 2422.6,297.8 2424.3,299.4C2426.1,300.9 2426.9,301.8 2428.2,303.3C2429.5,304.8 2430.6,306.8 2432.2,308.5C2433.7,310.3 2435.9,311.8 2437.4,313.7C2438.9,315.7 2440.6,318.1 2441.3,320.3C2442.1,322.5 2442.4,324.4 2442.0,326.8C2441.5,329.2 2439.9,331.8 2438.7,334.7C2437.5,337.5 2436.3,340.8 2434.8,343.8C2433.3,346.9 2431.5,350.0 2429.5,353.0C2427.6,356.1 2425.2,359.1 2423.0,362.2C2420.8,365.2 2418.6,368.5 2416.5,371.3C2414.3,374.2 2412.1,376.8 2409.9,379.2C2407.7,381.6 2405.6,383.5 2403.4,385.7C2401.2,387.9 2398.8,390.1 2396.8,392.3C2394.9,394.4 2392.9,396.6 2391.6,398.8C2390.3,401.0 2389.4,404.3 2389.0,405.3" fill="none" stroke="#ff1a1a" stroke-width="2" stroke-linejoin="round" stroke-linecap="round"/>
<path d="M2306.5,286.3C2307.9,287.4 2311.6,290.4 2314.4,292.8C2317.2,295.2 2320.5,298.3 2323.6,300.7C2326.6,303.1 2329.7,305.0 2332.7,307.2C2335.8,309.4 2338.8,311.6 2341.9,313.7C2344.9,315.9 2348.0,318.1 2351.0,320.3C2354.1,322.5 2357.1,324.7 2360.2,326.8C2363.2,329.0 2366.7,331.4 2369.4,333.4C2372.0,335.3 2374.2,336.4 2375.9,338.6C2377.6,340.8 2378.5,344.1 2379.8,346.5C2381.1,348.9 2382.2,350.6 2383.7,353.0C2385.3,355.4 2387.0,358.2 2389.0,360.9C2390.9,363.5 2393.3,366.3 2395.5,368.7C2397.7,371.1 2399.9,373.5 2402.1,375.2C2404.2,377.0 2407.5,378.5 2408.6,379.2" fill="none" stroke="#ff1a1a" stroke-width="2" stroke-linejoin="round" stroke-linecap="round"/>
<path d="M2375.9,338.6C2376.2,337.5 2376.9,333.8 2377.9,332.1C2378.8,330.3 2380.4,328.1 2381.8,328.1C2383.2,328.1 2385.2,330.3 2386.4,332.1C2387.6,333.8 2388.1,336.2 2389.0,338.6C2389.9,341.0 2390.3,344.1 2391.6,346.5C2392.9,348.9 2394.9,351.0 2396.8,353.0C2398.8,355.0 2401.2,356.7 2403.4,358.2C2405.6,359.8 2407.5,361.1 2409.9,362.2C2412.3,363.3 2415.2,364.6 2417.8,364.8C2420.4,365.0 2423.2,364.3 2425.6,363.5C2428.0,362.6 2430.0,361.3 2432.2,359.5C2434.3,357.8 2436.7,355.4 2438.7,353.0C2440.7,350.6 2442.2,347.8 2443.9,345.2C2445.7,342.5 2447.2,339.9 2449.2,337.3C2451.1,334.7 2453.8,332.1 2455.7,329.5C2457.7,326.8 2459.5,324.2 2461.0,321.6C2462.4,319.0 2464.0,316.4 2464.2,313.7C2464.4,311.1 2463.9,307.6 2462.3,305.9C2460.6,304.2 2457.0,304.2 2454.4,303.3C2451.8,302.4 2449.2,302.0 2446.6,300.7C2443.9,299.4 2441.1,297.2 2438.7,295.4C2436.3,293.7 2433.9,291.9 2432.2,290.2C2430.4,288.4 2428.9,285.8 2428.2,285.0" fill="none" stroke="#ff1a1a" stroke-width="2" stroke-linejoin="round" stroke-linecap="round"/>
<path d="M2423.7,243.1C2423.5,244.4 2423.0,247.9 2423.0,250.9C2423.0,254.0 2423.4,257.7 2423.7,261.4C2423.9,265.1 2423.7,269.7 2424.3,273.2C2425.0,276.7 2426.7,279.3 2427.6,282.3C2428.5,285.4 2429.3,288.4 2429.5,291.5C2429.8,294.6 2429.1,297.8 2428.9,300.7C2428.7,303.5 2428.0,305.9 2428.2,308.5C2428.5,311.1 2429.1,313.7 2430.2,316.4C2431.3,319.0 2432.9,321.8 2434.8,324.2C2436.6,326.6 2439.6,329.0 2441.3,330.8C2443.1,332.5 2444.6,334.0 2445.2,334.7" fill="none" stroke="#ff1a1a" stroke-width="2" stroke-linejoin="round" stroke-linecap="round"/>
<path d="M2423.7,243.1C2424.6,244.0 2427.7,246.1 2429.5,248.3C2431.4,250.5 2433.3,253.6 2434.8,256.2C2436.3,258.8 2437.5,261.4 2438.7,264.0C2439.9,266.6 2440.9,269.3 2442.0,271.9C2443.1,274.5 2443.8,277.3 2445.2,279.7C2446.7,282.1 2448.7,284.1 2450.5,286.3C2452.2,288.4 2454.0,290.6 2455.7,292.8C2457.5,295.0 2459.2,297.2 2461.0,299.4C2462.7,301.5 2464.2,303.9 2466.2,305.9C2468.1,307.9 2470.5,309.4 2472.7,311.1C2474.9,312.9 2477.7,314.2 2479.3,316.4C2480.8,318.5 2481.2,321.6 2481.9,324.2C2482.5,326.8 2483.1,329.2 2483.2,332.1C2483.3,334.9 2483.0,338.2 2482.5,341.2C2482.1,344.3 2481.3,347.1 2480.6,350.4C2479.8,353.7 2478.5,357.4 2478.0,360.9C2477.4,364.3 2477.3,367.8 2477.3,371.3C2477.3,374.8 2477.2,378.5 2478.0,381.8C2478.7,385.1 2480.8,387.9 2481.9,391.0C2483.0,394.0 2484.2,396.8 2484.5,400.1C2484.8,403.4 2484.5,408.1 2483.9,410.6C2483.2,413.1 2482.9,414.4 2480.6,415.2C2478.3,415.9 2473.4,415.5 2470.1,415.2C2466.8,414.8 2464.2,413.6 2461.0,413.2C2457.7,412.8 2454.2,412.5 2450.5,412.5C2446.8,412.5 2442.4,413.0 2438.7,413.2C2435.0,413.4 2431.7,414.0 2428.2,413.9C2424.7,413.7 2419.5,412.8 2417.8,412.5" fill="none" stroke="#ff1a1a" stroke-width="2" stroke-linejoin="round" stroke-linecap="round"/>
<path d="M2442.0,271.9C2442.5,271.3 2443.4,269.3 2445.2,268.6C2447.1,267.9 2450.0,268.1 2453.1,267.9C2456.2,267.8 2461.0,267.1 2463.6,267.9C2466.2,268.8 2467.1,271.0 2468.8,273.2C2470.5,275.4 2472.5,278.4 2474.0,281.0C2475.6,283.7 2476.7,286.0 2478.0,288.9C2479.3,291.7 2480.8,295.0 2481.9,298.0C2483.0,301.1 2483.9,304.2 2484.5,307.2C2485.2,310.3 2485.8,313.3 2485.8,316.4C2485.8,319.4 2484.9,322.5 2484.5,325.5C2484.1,328.6 2483.1,331.6 2483.2,334.7C2483.3,337.7 2484.3,341.0 2485.2,343.8C2486.0,346.7 2487.7,348.9 2488.4,351.7C2489.2,354.5 2489.7,357.6 2489.7,360.9C2489.7,364.1 2489.1,368.1 2488.4,371.3C2487.8,374.6 2486.9,377.6 2485.8,380.5C2484.7,383.3 2483.6,385.9 2481.9,388.3C2480.1,390.7 2477.5,392.9 2475.3,394.9C2473.2,396.8 2470.8,398.6 2468.8,400.1C2466.8,401.6 2464.4,403.4 2463.6,404.0" fill="none" stroke="#ff1a1a" stroke-width="2" stroke-linejoin="round" stroke-linecap="round"/>
<path d="M2442.0,271.9C2441.0,272.5 2437.7,273.8 2436.1,275.8C2434.5,277.8 2433.3,281.0 2432.2,283.7C2431.1,286.3 2430.0,290.2 2429.5,291.5" fill="none" stroke="#ff1a1a" stroke-width="2" stroke-linejoin="round" stroke-linecap="round"/>
<path d="M2480.6,355.6C2481.9,354.7 2486.3,352.4 2488.4,350.4C2490.6,348.4 2491.5,345.4 2493.7,343.8C2495.8,342.3 2498.5,341.7 2501.5,341.2C2504.6,340.7 2508.3,340.9 2512.0,341.0C2515.7,341.1 2521.7,341.2 2523.8,341.9C2525.8,342.6 2524.9,343.7 2524.4,345.2C2524.0,346.6 2522.8,348.4 2521.1,350.4C2519.5,352.4 2517.0,355.0 2514.6,356.9C2512.2,358.9 2509.4,360.6 2506.8,362.2C2504.1,363.7 2501.5,364.8 2498.9,366.1C2496.3,367.4 2493.7,368.9 2491.0,370.0C2488.4,371.1 2485.6,372.0 2483.2,372.6C2480.8,373.3 2477.7,373.7 2476.7,373.9" fill="none" stroke="#ff1a1a" stroke-width="2" stroke-linejoin="round" stroke-linecap="round"/>
<path d="M2476.7,373.9C2475.1,374.6 2470.8,377.9 2467.5,377.9C2464.2,377.9 2460.3,375.5 2457.0,373.9C2453.8,372.4 2450.7,370.2 2447.9,368.7C2445.0,367.2 2442.9,365.4 2440.0,364.8C2437.2,364.1 2433.7,364.1 2430.9,364.8C2428.0,365.4 2425.2,367.0 2423.0,368.7C2420.8,370.5 2419.1,372.6 2417.8,375.2C2416.5,377.9 2415.7,381.4 2415.2,384.4C2414.6,387.5 2414.3,390.3 2414.5,393.6C2414.7,396.8 2415.9,400.8 2416.5,404.0C2417.0,407.3 2417.3,410.1 2417.8,413.2C2418.2,416.3 2418.2,419.7 2419.1,422.4C2420.0,425.0 2421.3,427.3 2423.0,428.9C2424.7,430.5 2426.9,431.6 2429.5,432.2C2432.2,432.7 2435.9,432.9 2438.7,432.2C2441.5,431.4 2444.2,429.4 2446.6,427.6C2449.0,425.7 2451.1,423.4 2453.1,421.0C2455.1,418.7 2456.7,415.8 2458.3,413.2C2460.0,410.6 2462.0,408.0 2462.9,405.3C2463.8,402.7 2463.9,400.1 2463.6,397.5C2463.2,394.9 2461.8,392.3 2461.0,389.6C2460.1,387.0 2459.0,384.4 2458.3,381.8C2457.7,379.2 2457.0,376.8 2457.0,373.9C2457.0,371.1 2457.7,367.8 2458.3,364.8C2459.0,361.7 2459.6,358.7 2461.0,355.6C2462.3,352.6 2464.2,349.1 2466.2,346.5C2468.1,343.8 2470.5,341.7 2472.7,339.9C2474.9,338.2 2478.2,336.6 2479.3,336.0" fill="none" stroke="#ff1a1a" stroke-width="2" stroke-linejoin="round" stroke-linecap="round"/>
<path d="M2479.3,337.3C2478.4,339.0 2476.0,344.3 2474.0,347.8C2472.1,351.3 2469.7,354.7 2467.5,358.2C2465.3,361.7 2462.9,365.2 2461.0,368.7C2459.0,372.2 2457.5,375.7 2455.7,379.2C2454.0,382.7 2452.2,386.6 2450.5,389.6C2448.7,392.7 2446.1,396.2 2445.2,397.5" fill="none" stroke="#ff1a1a" stroke-width="2" stroke-linejoin="round" stroke-linecap="round"/>
<path d="M2475.3,341.2C2474.3,343.2 2471.0,349.3 2468.8,353.0C2466.6,356.7 2464.7,360.2 2462.3,363.5C2459.9,366.7 2457.5,370.5 2454.4,372.6C2451.4,374.8 2447.4,375.5 2443.9,376.6C2440.5,377.6 2436.7,378.1 2433.5,379.2C2430.2,380.3 2427.1,381.8 2424.3,383.1C2421.5,384.4 2419.1,385.7 2416.5,387.0C2413.8,388.3 2411.4,390.1 2408.6,391.0C2405.8,391.8 2402.1,391.6 2399.5,392.3C2396.8,392.9 2394.7,393.6 2392.9,394.9C2391.2,396.2 2389.4,398.1 2389.0,400.1C2388.5,402.1 2390.1,405.6 2390.3,406.7" fill="none" stroke="#ff1a1a" stroke-width="2" stroke-linejoin="round" stroke-linecap="round"/>
<path d="M2378.5,387.0C2377.6,386.4 2375.5,384.2 2373.3,383.1C2371.1,382.0 2368.3,380.9 2365.4,380.5C2362.6,380.0 2359.5,380.5 2356.3,380.5C2353.0,380.5 2349.3,380.0 2345.8,380.5C2342.3,380.9 2338.6,381.8 2335.3,383.1C2332.1,384.4 2329.0,386.2 2326.2,388.3C2323.3,390.5 2320.3,393.1 2318.3,396.2C2316.4,399.2 2315.3,403.2 2314.4,406.7C2313.5,410.1 2313.3,413.9 2313.1,417.1C2312.9,420.4 2312.4,423.4 2313.1,426.3C2313.7,429.1 2315.0,433.0 2317.0,434.1C2319.0,435.2 2322.2,432.6 2324.9,432.8C2327.5,433.0 2329.9,435.3 2332.7,435.4C2335.5,435.6 2338.6,434.1 2341.9,433.5C2345.1,432.8 2349.1,432.5 2352.3,431.5C2355.6,430.5 2358.4,429.1 2361.5,427.6C2364.6,426.1 2367.8,424.3 2370.7,422.4C2373.5,420.4 2375.9,418.0 2378.5,415.8C2381.1,413.6 2384.0,411.0 2386.4,409.3C2388.8,407.5 2390.7,406.7 2392.9,405.3C2395.1,404.0 2397.1,402.9 2399.5,401.4C2401.8,399.9 2405.3,397.9 2407.3,396.2C2409.3,394.4 2410.6,391.8 2411.2,391.0" fill="none" stroke="#ff1a1a" stroke-width="2" stroke-linejoin="round" stroke-linecap="round"/>
<path d="M2356.3,444.6C2358.2,444.6 2364.3,444.6 2368.0,444.6C2371.8,444.6 2375.0,444.7 2378.5,444.6C2382.0,444.5 2385.5,444.8 2389.0,443.9C2392.5,443.1 2396.0,441.0 2399.5,439.4C2402.9,437.7 2406.9,436.1 2409.9,434.1C2413.0,432.2 2415.2,430.0 2417.8,427.6C2420.4,425.2 2423.2,422.1 2425.6,419.7C2428.0,417.3 2430.2,415.4 2432.2,413.2C2434.1,411.0 2435.7,408.6 2437.4,406.7C2439.1,404.7 2441.8,402.3 2442.6,401.4" fill="none" stroke="#ff1a1a" stroke-width="2" stroke-linejoin="round" stroke-linecap="round"/>
<path d="M2391.6,406.0C2393.3,406.3 2398.6,407.2 2402.1,408.0C2405.6,408.7 2409.0,410.1 2412.5,410.6C2416.0,411.0 2419.7,411.2 2423.0,410.6C2426.3,409.9 2430.0,407.5 2432.2,406.7C2434.3,405.8 2434.1,405.5 2436.1,405.3C2438.1,405.2 2440.9,405.9 2443.9,406.0C2447.0,406.1 2451.1,406.0 2454.4,406.0C2457.7,406.0 2462.0,406.0 2463.6,406.0" fill="none" stroke="#ff1a1a" stroke-width="2" stroke-linejoin="round" stroke-linecap="round"/>
<path d="M2391.6,405.3C2392.9,405.1 2396.8,404.1 2399.5,404.0C2402.1,403.9 2404.7,404.5 2407.3,404.7C2409.9,404.9 2413.4,406.1 2415.2,405.3C2416.9,404.6 2417.1,402.1 2417.8,400.1C2418.4,398.1 2417.8,394.7 2419.1,393.6C2420.4,392.5 2423.7,392.7 2425.6,393.6C2427.6,394.4 2429.5,396.8 2430.9,398.8C2432.2,400.8 2433.3,403.2 2433.5,405.3C2433.7,407.5 2432.4,410.8 2432.2,411.9" fill="none" stroke="#ff1a1a" stroke-width="2" stroke-linejoin="round" stroke-linecap="round"/>
<path d="M2420.4,385.7C2421.7,385.5 2425.6,384.0 2428.2,384.4C2430.9,384.8 2433.9,386.8 2436.1,388.3C2438.3,389.9 2439.8,391.6 2441.3,393.6C2442.9,395.5 2444.8,398.1 2445.2,400.1C2445.7,402.1 2444.2,404.5 2443.9,405.3" fill="none" stroke="#ff1a1a" stroke-width="2" stroke-linejoin="round" stroke-linecap="round"/>
<path d="M2479.3,388.3C2478.2,389.2 2474.9,391.8 2472.7,393.6C2470.5,395.3 2468.1,397.1 2466.2,398.8C2464.2,400.5 2462.9,401.9 2461.0,404.0C2459.0,406.2 2456.8,409.5 2454.4,411.9C2452.0,414.3 2449.2,416.5 2446.6,418.4C2443.9,420.4 2441.3,422.4 2438.7,423.7C2436.1,425.0 2433.5,426.1 2430.9,426.3C2428.2,426.5 2424.3,425.2 2423.0,425.0" fill="none" stroke="#ff1a1a" stroke-width="2" stroke-linejoin="round" stroke-linecap="round"/>
<path d="M2478.0,360.9C2478.8,360.0 2481.5,356.9 2483.2,355.6C2484.9,354.3 2487.6,353.4 2488.4,353.0" fill="none" stroke="#ff1a1a" stroke-width="2" stroke-linejoin="round" stroke-linecap="round"/>
<path d="M2400.8,358.2C2401.2,359.3 2402.3,362.6 2403.4,364.8C2404.5,367.0 2405.8,369.4 2407.3,371.3C2408.8,373.3 2410.8,375.2 2412.5,376.6C2414.3,377.9 2416.9,378.7 2417.8,379.2" fill="none" stroke="#ff1a1a" stroke-width="2" stroke-linejoin="round" stroke-linecap="round"/>
<rect x="2420.3" y="211.6" width="6.4" height="6.4" fill="none" stroke="#111" stroke-width="1.8"/>
<circle cx="2356.3" cy="445.3" r="3.4" fill="none" stroke="#233" stroke-width="1.8"/>
<text class="ss" x="2221.8" y="137.0" font-size="21" font-weight="normal" text-anchor="middle" fill="#8a2eff" stroke="#8a2eff" stroke-width="0.5">IV</text>
<text class="ss" x="2568.5" y="137.0" font-size="21" font-weight="normal" text-anchor="middle" fill="#8a2eff" stroke="#8a2eff" stroke-width="0.5">I</text>
<text class="ss" x="2220.0" y="455.5" font-size="21" font-weight="normal" text-anchor="middle" fill="#8a2eff" stroke="#8a2eff" stroke-width="0.5">III</text>
<text class="ss" x="2572.0" y="455.5" font-size="21" font-weight="normal" text-anchor="middle" fill="#8a2eff" stroke="#8a2eff" stroke-width="0.5">II</text>
</g>
<g class="maze">
<ellipse cx="2837.6" cy="295.3" rx="181.6" ry="182.0" fill="none" stroke="#3333ff" stroke-width="2.6"/>
<path d="M2656.0,295.8H3019.2M2837.2999999999997,113.30000000000001V477.3" stroke="#4040ff" stroke-width="3.0" fill="none"/>
<circle cx="2881" cy="217.5" r="18" fill="none" stroke="#3333ff" stroke-width="2.4"/>
<path d="M2869.4,218.0C2869.6,216.7 2871.4,212.4 2870.7,209.9C2870.1,207.4 2867.1,204.6 2865.3,203.1C2863.5,201.5 2862.1,200.5 2859.8,200.3C2857.6,200.2 2855.3,202.2 2851.7,202.2C2848.0,202.2 2842.6,200.5 2838.0,200.3C2833.5,200.1 2829.0,200.5 2824.4,201.1C2819.9,201.8 2814.9,202.5 2810.8,204.4C2806.7,206.3 2803.1,209.4 2799.9,212.6C2796.7,215.8 2794.4,219.0 2791.7,223.5C2789.0,228.0 2785.8,234.4 2783.5,239.8C2781.3,245.3 2780.4,250.3 2778.1,256.2C2775.8,262.1 2772.6,269.8 2769.9,275.3C2767.2,280.7 2764.0,285.3 2761.7,288.9C2759.5,292.5 2759.0,293.9 2756.3,297.1C2753.6,300.3 2749.0,304.6 2745.4,308.0C2741.7,311.4 2737.9,314.6 2734.5,317.5C2731.1,320.5 2727.2,323.0 2724.9,325.7C2722.7,328.4 2721.3,330.9 2720.8,333.9C2720.4,336.8 2721.3,340.0 2722.2,343.4C2723.1,346.8 2724.7,350.2 2726.3,354.3C2727.9,358.4 2729.9,363.4 2731.7,367.9C2733.6,372.5 2735.4,377.0 2737.2,381.6C2739.0,386.1 2740.4,390.7 2742.6,395.2C2744.9,399.7 2748.1,404.7 2750.8,408.8C2753.6,412.9 2755.8,416.3 2759.0,419.7C2762.2,423.1 2765.8,426.5 2769.9,429.3C2774.0,432.0 2779.0,433.8 2783.5,436.1C2788.1,438.4 2792.6,441.1 2797.2,442.9C2801.7,444.7 2806.2,445.6 2810.8,447.0C2815.3,448.4 2821.0,450.2 2824.4,451.1C2827.8,452.0 2830.3,453.1 2831.2,452.4C2832.1,451.8 2832.4,448.1 2829.9,447.0C2827.4,445.9 2818.5,445.9 2816.2,445.6" fill="none" stroke="#ff1a1a" stroke-width="2" stroke-linejoin="round" stroke-linecap="round"/>
<path d="M2783.5,169.0C2784.4,167.4 2786.3,162.4 2789.0,159.4C2791.7,156.5 2795.3,153.1 2799.9,151.3C2804.4,149.5 2809.9,149.1 2816.2,148.5C2822.6,148.0 2830.8,148.0 2838.0,148.0C2845.3,148.0 2852.6,148.2 2859.8,148.5C2867.1,148.9 2874.8,149.2 2881.7,149.9C2888.5,150.6 2895.3,151.7 2900.7,152.6C2906.2,153.5 2909.8,153.8 2914.4,155.4C2918.9,156.9 2923.9,159.4 2928.0,162.2C2932.1,164.9 2935.3,167.8 2938.9,171.7C2942.5,175.6 2946.4,180.8 2949.8,185.3C2953.2,189.9 2956.6,194.4 2959.3,199.0C2962.1,203.5 2964.1,208.5 2966.1,212.6C2968.2,216.7 2969.3,220.3 2971.6,223.5C2973.9,226.7 2977.3,228.5 2979.8,231.7C2982.3,234.9 2984.8,238.5 2986.6,242.6C2988.4,246.7 2989.8,251.2 2990.7,256.2C2991.6,261.2 2991.8,267.6 2992.0,272.6C2992.3,277.6 2992.5,281.6 2992.0,286.2C2991.6,290.7 2990.4,294.8 2989.3,299.8C2988.2,304.8 2986.8,310.7 2985.2,316.2C2983.6,321.6 2981.8,327.5 2979.8,332.5C2977.7,337.5 2975.2,342.1 2973.0,346.1C2970.7,350.2 2968.6,353.4 2966.1,357.0C2963.6,360.7 2961.1,364.3 2958.0,367.9C2954.8,371.6 2951.2,375.7 2947.1,378.8C2943.0,382.0 2938.0,384.3 2933.4,387.0C2928.9,389.8 2924.4,392.7 2919.8,395.2C2915.3,397.7 2910.7,399.7 2906.2,402.0C2901.6,404.3 2897.1,407.0 2892.6,408.8C2888.0,410.6 2883.5,411.8 2878.9,412.9C2874.4,414.1 2869.8,414.5 2865.3,415.6C2860.8,416.8 2856.2,418.1 2851.7,419.7C2847.1,421.3 2841.7,422.9 2838.0,425.2C2834.4,427.5 2832.1,430.6 2829.9,433.4C2827.6,436.1 2826.0,438.8 2824.4,441.5C2822.8,444.3 2821.0,448.4 2820.3,449.7" fill="none" stroke="#ff1a1a" stroke-width="2" stroke-linejoin="round" stroke-linecap="round"/>
<path d="M2783.5,169.0C2783.3,170.8 2782.9,176.3 2782.2,179.9C2781.5,183.5 2780.4,187.2 2779.4,190.8C2778.5,194.4 2777.6,198.1 2776.7,201.7C2775.8,205.3 2775.1,208.5 2774.0,212.6C2772.9,216.7 2771.5,222.1 2769.9,226.2C2768.3,230.3 2766.7,233.5 2764.5,237.1C2762.2,240.8 2759.5,244.8 2756.3,248.0C2753.1,251.2 2749.0,253.7 2745.4,256.2C2741.7,258.7 2737.9,260.7 2734.5,263.0C2731.1,265.3 2727.9,266.9 2724.9,269.8C2722.0,272.8 2719.0,276.6 2716.8,280.7C2714.5,284.8 2712.9,289.4 2711.3,294.4C2709.7,299.4 2708.1,305.3 2707.2,310.7C2706.3,316.2 2705.9,321.6 2705.9,327.1C2705.9,332.5 2706.5,338.4 2707.2,343.4C2707.9,348.4 2708.6,352.5 2709.9,357.0C2711.3,361.6 2713.1,366.1 2715.4,370.7C2717.7,375.2 2720.8,380.2 2723.6,384.3C2726.3,388.4 2729.0,391.6 2731.7,395.2C2734.5,398.8 2737.2,402.5 2739.9,406.1C2742.6,409.7 2745.4,413.6 2748.1,417.0C2750.8,420.4 2753.1,423.8 2756.3,426.5C2759.5,429.3 2763.1,431.3 2767.2,433.4C2771.3,435.4 2776.3,437.0 2780.8,438.8C2785.3,440.6 2789.9,442.9 2794.4,444.3C2799.0,445.6 2805.8,446.5 2808.1,447.0" fill="none" stroke="#ff1a1a" stroke-width="2" stroke-linejoin="round" stroke-linecap="round"/>
<path d="M2816.2,230.3C2815.3,229.2 2813.5,225.5 2810.8,223.5C2808.1,221.4 2804.0,219.6 2799.9,218.0C2795.8,216.5 2790.8,215.1 2786.3,214.0C2781.7,212.8 2777.6,211.8 2772.6,211.2C2767.6,210.6 2761.3,210.3 2756.3,210.4C2751.3,210.5 2746.7,211.0 2742.6,212.0C2738.6,213.1 2734.7,214.5 2731.7,216.7C2728.8,218.8 2726.4,221.4 2724.9,224.9C2723.5,228.3 2723.2,232.8 2723.0,237.1C2722.9,241.4 2723.3,246.2 2724.1,250.7C2724.9,255.3 2725.9,260.1 2727.7,264.4C2729.4,268.7 2731.5,273.0 2734.5,276.6C2737.4,280.3 2741.3,283.5 2745.4,286.2C2749.5,288.9 2754.5,291.4 2759.0,293.0C2763.5,294.6 2768.1,295.5 2772.6,295.7C2777.2,295.9 2782.2,295.5 2786.3,294.4C2790.3,293.2 2794.0,291.2 2797.2,288.9C2800.3,286.6 2802.8,283.9 2805.3,280.7C2807.8,277.6 2810.3,273.9 2812.2,269.8C2814.0,265.7 2815.3,260.7 2816.2,256.2C2817.1,251.7 2817.4,246.7 2817.6,242.6C2817.8,238.5 2817.1,233.7 2817.6,231.7C2818.1,229.6 2819.9,230.5 2820.3,230.3" fill="none" stroke="#ff1a1a" stroke-width="2" stroke-linejoin="round" stroke-linecap="round"/>
<path d="M2820.3,230.3C2821.5,231.4 2824.2,234.4 2827.1,237.1C2830.1,239.8 2834.0,243.7 2838.0,246.7C2842.1,249.6 2847.1,252.3 2851.7,254.8C2856.2,257.3 2861.2,259.8 2865.3,261.7C2869.4,263.5 2872.6,263.9 2876.2,265.7C2879.8,267.6 2883.0,270.3 2887.1,272.6C2891.2,274.8 2896.2,277.1 2900.7,279.4C2905.3,281.6 2910.3,283.7 2914.4,286.2C2918.4,288.7 2921.9,291.4 2925.3,294.4C2928.7,297.3 2932.1,300.3 2934.8,303.9C2937.5,307.5 2939.6,311.8 2941.6,316.2C2943.7,320.5 2945.5,325.2 2947.1,329.8C2948.7,334.3 2950.2,338.9 2951.2,343.4C2952.2,348.0 2952.7,352.5 2953.1,357.0C2953.4,361.6 2953.4,366.6 2953.1,370.7C2952.7,374.8 2951.5,379.8 2951.2,381.6" fill="none" stroke="#ff1a1a" stroke-width="2" stroke-linejoin="round" stroke-linecap="round"/>
<path d="M2817.6,231.7C2817.1,233.5 2816.5,238.5 2814.9,242.6C2813.3,246.7 2810.3,251.7 2808.1,256.2C2805.8,260.7 2803.1,265.3 2801.2,269.8C2799.4,274.4 2798.3,278.9 2797.2,283.5C2796.0,288.0 2795.3,292.5 2794.4,297.1C2793.5,301.6 2792.6,306.2 2791.7,310.7C2790.8,315.3 2789.8,319.8 2789.0,324.3C2788.2,328.9 2787.4,333.4 2786.8,338.0C2786.2,342.5 2785.6,347.1 2785.2,351.6C2784.8,356.1 2784.4,360.7 2784.3,365.2C2784.3,369.8 2784.6,374.8 2784.9,378.8C2785.2,382.9 2785.3,386.1 2786.3,389.8C2787.2,393.4 2788.8,397.0 2790.3,400.7C2791.9,404.3 2794.0,407.9 2795.8,411.6C2797.6,415.2 2799.7,418.8 2801.2,422.5C2802.8,426.1 2804.2,429.7 2805.3,433.4C2806.5,437.0 2807.6,442.4 2808.1,444.3" fill="none" stroke="#ff1a1a" stroke-width="2" stroke-linejoin="round" stroke-linecap="round"/>
<path d="M2992.0,258.9C2990.4,258.7 2985.4,256.9 2982.5,257.6C2979.5,258.2 2976.6,260.5 2974.3,263.0C2972.0,265.5 2970.6,269.1 2968.9,272.6C2967.1,276.0 2965.6,279.8 2964.0,283.5C2962.4,287.1 2961.0,290.7 2959.3,294.4C2957.6,298.0 2956.4,302.5 2953.9,305.3C2951.4,308.0 2947.7,309.1 2944.3,310.7C2940.9,312.3 2937.5,313.4 2933.4,314.8C2929.3,316.2 2924.4,317.8 2919.8,318.9C2915.3,320.0 2910.7,320.7 2906.2,321.6C2901.6,322.5 2897.1,323.4 2892.6,324.3C2888.0,325.2 2883.5,325.9 2878.9,327.1C2874.4,328.2 2869.4,329.8 2865.3,331.2C2861.2,332.5 2858.0,333.2 2854.4,335.2C2850.8,337.3 2847.1,340.7 2843.5,343.4C2839.9,346.1 2836.2,348.9 2832.6,351.6C2829.0,354.3 2825.3,357.0 2821.7,359.8C2818.1,362.5 2814.4,365.0 2810.8,367.9C2807.2,370.9 2803.5,374.5 2799.9,377.5C2796.3,380.4 2792.2,383.2 2789.0,385.7C2785.8,388.2 2783.1,390.4 2780.8,392.5C2778.5,394.5 2776.3,397.0 2775.4,397.9" fill="none" stroke="#ff1a1a" stroke-width="2" stroke-linejoin="round" stroke-linecap="round"/>
<path d="M2971.6,368.5C2969.3,369.8 2963.0,373.9 2958.0,376.1C2953.0,378.3 2946.6,379.8 2941.6,381.6C2936.6,383.4 2932.5,384.8 2928.0,387.0C2923.4,389.3 2918.9,392.5 2914.4,395.2C2909.8,397.9 2905.3,401.6 2900.7,403.4C2896.2,405.2 2892.1,406.1 2887.1,406.1C2882.1,406.1 2876.2,404.3 2870.7,403.4C2865.3,402.5 2859.8,401.1 2854.4,400.7C2848.9,400.2 2843.0,401.1 2838.0,400.7C2833.0,400.2 2828.5,399.3 2824.4,397.9C2820.3,396.6 2816.7,394.7 2813.5,392.5C2810.3,390.2 2808.1,387.0 2805.3,384.3C2802.6,381.6 2799.7,378.8 2797.2,376.1C2794.7,373.4 2792.4,370.0 2790.3,367.9C2788.3,365.9 2787.8,364.7 2784.9,363.9C2781.9,363.0 2774.8,361.9 2772.6,363.0C2770.5,364.2 2771.9,367.6 2772.1,370.7C2772.3,373.8 2773.9,377.9 2774.0,381.6C2774.1,385.2 2772.2,388.8 2772.6,392.5C2773.1,396.1 2775.1,400.7 2776.7,403.4C2778.3,406.1 2779.7,407.9 2782.2,408.8C2784.7,409.7 2789.2,407.9 2791.7,408.8C2794.2,409.7 2796.3,413.4 2797.2,414.3" fill="none" stroke="#ff1a1a" stroke-width="2" stroke-linejoin="round" stroke-linecap="round"/>
<path d="M2767.2,399.3C2767.6,400.4 2768.1,404.5 2769.9,406.1C2771.7,407.7 2775.8,409.3 2778.1,408.8C2780.4,408.4 2783.8,405.4 2783.5,403.4C2783.3,401.3 2779.2,397.5 2776.7,396.6C2774.2,395.7 2769.9,397.7 2768.5,397.9" fill="none" stroke="#ff1a1a" stroke-width="2" stroke-linejoin="round" stroke-linecap="round"/>
<rect x="2864.3" y="217.6" width="6.4" height="6.4" fill="none" stroke="#111" stroke-width="1.8"/>
<circle cx="2797.2" cy="414.3" r="3.4" fill="none" stroke="#233" stroke-width="1.8"/>
<text class="ss" x="2671.2" y="135.1" font-size="21" font-weight="normal" text-anchor="middle" fill="#8a2eff" stroke="#8a2eff" stroke-width="0.5">IV</text>
<text class="ss" x="3026.0" y="135.1" font-size="21" font-weight="normal" text-anchor="middle" fill="#8a2eff" stroke="#8a2eff" stroke-width="0.5">I</text>
<text class="ss" x="2669.0" y="456.5" font-size="21" font-weight="normal" text-anchor="middle" fill="#8a2eff" stroke="#8a2eff" stroke-width="0.5">III</text>
<text class="ss" x="3028.8" y="456.5" font-size="21" font-weight="normal" text-anchor="middle" fill="#8a2eff" stroke="#8a2eff" stroke-width="0.5">II</text>
</g>
<g class="maze">
<ellipse cx="1926.5" cy="783.7" rx="180.0" ry="183.3" fill="none" stroke="#3333ff" stroke-width="2.6"/>
<path d="M1746.5,784.2H2106.5M1926.2,600.4000000000001V967.0" stroke="#4040ff" stroke-width="3.0" fill="none"/>
<circle cx="1968.5" cy="705.3" r="18.5" fill="none" stroke="#3333ff" stroke-width="2.4"/>
<path d="M1867.6,637.7C1866.7,638.6 1863.5,640.0 1862.2,642.6C1860.8,645.3 1860.4,649.9 1859.4,653.6C1858.5,657.2 1857.6,661.5 1856.7,664.5C1855.8,667.4 1855.4,668.8 1854.0,671.3C1852.6,673.8 1851.0,676.7 1848.5,679.4C1846.0,682.2 1842.4,685.8 1839.0,687.6C1835.6,689.4 1832.2,689.8 1828.1,690.3C1824.0,690.9 1818.3,691.0 1814.5,691.2C1810.6,691.3 1807.2,690.6 1804.9,691.2C1802.7,691.7 1801.9,692.1 1800.8,694.4C1799.8,696.8 1798.7,701.2 1798.7,705.3C1798.7,709.4 1800.0,714.0 1800.8,719.0C1801.7,724.0 1803.2,729.9 1803.6,735.3C1803.9,740.8 1803.7,746.7 1803.0,751.7C1802.3,756.7 1801.0,760.8 1799.5,765.3C1798.0,769.8 1795.4,774.4 1794.0,778.9C1792.7,783.5 1792.0,787.6 1791.3,792.6C1790.6,797.6 1790.1,803.5 1789.9,808.9C1789.8,814.4 1789.8,819.8 1790.5,825.3C1791.2,830.7 1792.5,836.6 1794.0,841.6C1795.5,846.6 1797.2,850.2 1799.5,855.2C1801.8,860.2 1804.7,866.6 1807.7,871.6C1810.6,876.6 1813.8,881.1 1817.2,885.2C1820.6,889.3 1824.0,893.2 1828.1,896.1C1832.2,899.1 1837.6,900.2 1841.7,902.9C1845.8,905.7 1849.0,909.3 1852.6,912.5C1856.3,915.7 1859.9,919.3 1863.5,922.0C1867.2,924.7 1869.9,926.8 1874.4,928.8C1879.0,930.9 1885.3,932.9 1890.8,934.3C1896.2,935.6 1901.2,936.8 1907.1,937.0C1913.0,937.2 1919.9,936.6 1926.2,935.6C1932.6,934.7 1939.4,933.1 1945.3,931.6C1951.2,930.0 1956.2,927.9 1961.7,926.1C1967.1,924.3 1972.6,922.9 1978.0,920.7C1983.5,918.4 1988.9,915.4 1994.4,912.5C1999.8,909.5 2005.7,906.1 2010.7,902.9C2015.7,899.8 2020.3,896.8 2024.3,893.4C2028.4,890.0 2032.1,886.6 2035.2,882.5C2038.4,878.4 2040.9,873.4 2043.4,868.9C2045.9,864.3 2048.4,860.2 2050.2,855.2C2052.0,850.2 2053.4,844.8 2054.3,838.9C2055.2,833.0 2055.2,826.2 2055.7,819.8C2056.1,813.4 2057.0,807.1 2057.0,800.7C2057.0,794.4 2056.4,787.6 2055.7,781.7C2055.0,775.7 2054.3,770.3 2053.0,765.3C2051.6,760.3 2049.6,755.8 2047.5,751.7C2045.5,747.6 2043.0,743.9 2040.7,740.8C2038.4,737.6 2036.6,735.3 2033.9,732.6C2031.2,729.9 2027.1,727.6 2024.3,724.4C2021.6,721.2 2019.8,717.6 2017.5,713.5C2015.3,709.4 2012.8,704.4 2010.7,699.9C2008.7,695.3 2007.1,690.6 2005.3,686.3C2003.4,681.9 2001.4,677.2 1999.8,674.0C1998.2,670.8 1996.4,668.3 1995.7,667.2" fill="none" stroke="#ff1a1a" stroke-width="2" stroke-linejoin="round" stroke-linecap="round"/>
<path d="M1867.6,637.7C1868.8,638.1 1871.9,638.9 1874.4,639.9C1876.9,641.0 1879.9,642.4 1882.6,644.0C1885.3,645.6 1887.6,649.2 1890.8,649.5C1894.0,649.7 1897.6,646.7 1901.7,645.4C1905.8,644.0 1910.8,641.8 1915.3,641.3C1919.9,640.7 1924.4,642.1 1928.9,642.1C1933.5,642.1 1938.0,641.3 1942.6,641.3C1947.1,641.3 1952.6,641.0 1956.2,642.1C1959.8,643.2 1961.2,646.2 1964.4,648.1C1967.6,650.0 1971.2,651.7 1975.3,653.6C1979.4,655.4 1984.8,657.2 1988.9,659.0C1993.0,660.8 1996.2,662.4 1999.8,664.5C2003.4,666.5 2007.1,669.2 2010.7,671.3C2014.3,673.3 2018.0,675.6 2021.6,676.7C2025.2,677.9 2029.3,676.9 2032.5,678.1C2035.7,679.2 2038.4,680.8 2040.7,683.5C2043.0,686.3 2045.1,690.8 2046.1,694.4C2047.1,698.1 2047.1,701.7 2046.7,705.3C2046.2,709.0 2043.7,712.6 2043.4,716.2C2043.1,719.9 2043.9,723.5 2044.8,727.1C2045.7,730.8 2047.3,734.0 2048.9,738.0C2050.5,742.1 2052.5,747.1 2054.3,751.7C2056.1,756.2 2058.2,760.3 2059.8,765.3C2061.4,770.3 2063.4,776.2 2063.9,781.7C2064.3,787.1 2063.4,792.6 2062.5,798.0C2061.6,803.5 2059.5,808.9 2058.4,814.4C2057.3,819.8 2056.4,825.3 2055.7,830.7C2055.0,836.2 2054.5,844.3 2054.3,847.1" fill="none" stroke="#ff1a1a" stroke-width="2" stroke-linejoin="round" stroke-linecap="round"/>
<path d="M2047.5,708.1C2048.6,707.5 2051.8,704.8 2054.3,704.8C2056.8,704.8 2060.9,705.7 2062.5,708.1C2064.1,710.4 2063.4,714.9 2063.9,719.0C2064.3,723.1 2064.1,728.5 2065.2,732.6C2066.4,736.7 2068.9,739.9 2070.7,743.5C2072.5,747.1 2074.7,750.5 2076.1,754.4C2077.6,758.3 2079.2,762.6 2079.4,766.7C2079.6,770.7 2078.3,774.6 2077.5,778.9C2076.7,783.2 2075.7,787.6 2074.8,792.6C2073.9,797.6 2073.2,803.9 2072.0,808.9C2070.9,813.9 2069.8,818.0 2067.9,822.5C2066.1,827.1 2063.6,832.1 2061.1,836.2C2058.6,840.3 2055.2,843.0 2053.0,847.1C2050.7,851.2 2049.6,856.1 2047.5,860.7C2045.5,865.2 2043.2,869.8 2040.7,874.3C2038.2,878.9 2035.2,883.9 2032.5,887.9C2029.8,892.0 2025.7,897.0 2024.3,898.8" fill="none" stroke="#ff1a1a" stroke-width="2" stroke-linejoin="round" stroke-linecap="round"/>
<path d="M1893.5,650.8C1895.8,650.4 1901.7,649.1 1907.1,648.1C1912.6,647.1 1919.9,645.3 1926.2,644.8C1932.6,644.4 1939.8,644.8 1945.3,645.4C1950.7,645.9 1956.7,647.6 1958.9,648.1" fill="none" stroke="#ff1a1a" stroke-width="2" stroke-linejoin="round" stroke-linecap="round"/>
<path d="M1901.7,661.7C1899.9,661.7 1894.9,661.0 1890.8,661.7C1886.7,662.4 1881.7,664.2 1877.2,665.8C1872.6,667.4 1868.1,669.5 1863.5,671.3C1859.0,673.1 1854.4,675.4 1849.9,676.7C1845.4,678.1 1840.8,678.8 1836.3,679.4C1831.7,680.1 1826.7,680.1 1822.6,680.8C1818.6,681.5 1814.7,682.2 1811.7,683.5C1808.8,684.9 1806.1,686.3 1804.9,689.0C1803.8,691.7 1804.5,696.3 1804.9,699.9C1805.4,703.5 1806.3,707.2 1807.7,710.8C1809.0,714.4 1810.6,718.5 1813.1,721.7C1815.6,724.9 1818.8,727.6 1822.6,729.9C1826.5,732.1 1831.7,734.0 1836.3,735.3C1840.8,736.7 1845.4,737.6 1849.9,738.0C1854.4,738.5 1859.0,739.0 1863.5,738.0C1868.1,737.1 1872.8,735.1 1877.2,732.6C1881.5,730.1 1886.0,726.5 1889.4,723.1C1892.8,719.6 1895.8,716.0 1897.6,712.2C1899.4,708.3 1900.1,704.0 1900.3,699.9C1900.6,695.8 1899.9,691.5 1899.0,687.6C1898.1,683.8 1895.8,680.6 1894.9,676.7C1894.0,672.9 1893.3,667.9 1893.5,664.5C1893.7,661.0 1894.4,659.0 1896.2,656.3C1898.1,653.6 1903.1,649.5 1904.4,648.1" fill="none" stroke="#ff1a1a" stroke-width="2" stroke-linejoin="round" stroke-linecap="round"/>
<path d="M1901.7,661.7C1904.0,662.9 1910.8,666.3 1915.3,668.5C1919.9,670.8 1924.9,673.3 1928.9,675.4C1933.0,677.4 1936.7,679.2 1939.8,680.8C1943.0,682.4 1947.3,682.6 1948.0,684.9C1948.7,687.2 1945.3,691.0 1943.9,694.4C1942.6,697.8 1940.3,701.7 1939.8,705.3C1939.4,709.0 1940.1,712.6 1941.2,716.2C1942.3,719.9 1944.2,724.4 1946.7,727.1C1949.2,729.9 1952.8,731.5 1956.2,732.6C1959.6,733.7 1963.5,734.4 1967.1,734.0C1970.7,733.5 1974.4,731.9 1978.0,729.9C1981.6,727.8 1985.7,724.9 1988.9,721.7C1992.1,718.5 1994.8,714.9 1997.1,710.8C1999.4,706.7 2001.4,701.7 2002.5,697.2C2003.7,692.6 2004.4,687.6 2003.9,683.5C2003.4,679.4 2001.6,674.9 1999.8,672.6C1998.0,670.4 1995.3,669.5 1993.0,669.9C1990.7,670.4 1987.5,672.6 1986.2,675.4C1984.8,678.1 1984.4,682.6 1984.8,686.3C1985.3,689.9 1986.9,694.0 1988.9,697.2C1991.0,700.3 1993.9,703.5 1997.1,705.3C2000.3,707.2 2004.8,707.2 2008.0,708.1C2011.2,709.0 2014.8,710.3 2016.2,710.8" fill="none" stroke="#ff1a1a" stroke-width="2" stroke-linejoin="round" stroke-linecap="round"/>
<path d="M1972.6,714.9C1973.9,716.0 1978.0,719.4 1980.7,721.7C1983.5,724.0 1985.7,727.1 1988.9,728.5C1992.1,729.9 1996.2,729.9 1999.8,729.9C2003.4,729.9 2008.0,730.3 2010.7,728.5C2013.4,726.7 2015.3,721.9 2016.2,719.0C2017.1,716.0 2016.2,712.2 2016.2,710.8" fill="none" stroke="#ff1a1a" stroke-width="2" stroke-linejoin="round" stroke-linecap="round"/>
<path d="M2043.4,716.2C2042.5,719.0 2040.7,727.6 2038.0,732.6C2035.2,737.6 2030.7,741.7 2027.1,746.2C2023.4,750.8 2018.9,755.3 2016.2,759.8C2013.4,764.4 2011.8,768.5 2010.7,773.5C2009.6,778.5 2010.3,784.8 2009.3,789.8C2008.4,794.8 2007.1,798.9 2005.3,803.5C2003.4,808.0 2000.7,813.0 1998.4,817.1C1996.2,821.2 1993.2,824.4 1991.6,828.0C1990.0,831.6 1988.7,835.3 1988.9,838.9C1989.1,842.5 1990.7,846.8 1993.0,849.8C1995.3,852.7 1998.7,855.0 2002.5,856.6C2006.4,858.2 2011.6,859.3 2016.2,859.3C2020.7,859.3 2026.2,858.4 2029.8,856.6C2033.4,854.8 2035.7,852.3 2038.0,848.4C2040.2,844.6 2041.6,838.7 2043.4,833.4C2045.2,828.2 2047.1,823.0 2048.9,817.1C2050.7,811.2 2052.7,803.9 2054.3,798.0C2055.9,792.1 2057.7,784.4 2058.4,781.7" fill="none" stroke="#ff1a1a" stroke-width="2" stroke-linejoin="round" stroke-linecap="round"/>
<path d="M1863.5,928.8C1864.7,926.1 1868.1,917.5 1870.3,912.5C1872.6,907.5 1874.7,902.9 1877.2,898.8C1879.7,894.8 1883.5,890.2 1885.3,887.9C1887.2,885.7 1888.7,886.4 1888.1,885.2C1887.4,884.1 1883.5,880.9 1881.2,881.1C1879.0,881.4 1876.0,884.1 1874.4,886.6C1872.8,889.1 1871.3,893.6 1871.7,896.1C1872.2,898.6 1874.9,901.3 1877.2,901.6C1879.4,901.8 1883.5,899.8 1885.3,897.5C1887.2,895.2 1887.6,889.5 1888.1,887.9" fill="none" stroke="#ff1a1a" stroke-width="2" stroke-linejoin="round" stroke-linecap="round"/>
<path d="M1848.5,877.0C1848.3,875.7 1846.5,871.4 1847.2,868.9C1847.9,866.4 1849.9,863.6 1852.6,862.1C1855.4,860.5 1859.9,859.3 1863.5,859.3C1867.2,859.3 1870.8,860.0 1874.4,862.1C1878.1,864.1 1881.7,868.2 1885.3,871.6C1889.0,875.0 1892.6,879.1 1896.2,882.5C1899.9,885.9 1904.4,888.4 1907.1,892.0C1909.9,895.7 1912.4,900.4 1912.6,904.3C1912.8,908.2 1910.8,912.3 1908.5,915.2C1906.2,918.2 1902.8,920.4 1899.0,922.0C1895.1,923.6 1889.9,924.7 1885.3,924.7C1880.8,924.7 1875.3,923.6 1871.7,922.0C1868.1,920.4 1865.1,917.9 1863.5,915.2C1861.9,912.5 1861.7,908.6 1862.2,905.7C1862.6,902.7 1866.7,899.5 1866.3,897.5C1865.8,895.4 1861.9,895.2 1859.4,893.4C1856.9,891.6 1853.1,889.3 1851.3,886.6C1849.5,883.9 1849.0,878.6 1848.5,877.0" fill="none" stroke="#ff1a1a" stroke-width="2" stroke-linejoin="round" stroke-linecap="round"/>
<rect x="1964.4" y="711.9" width="4.4" height="4.4" fill="#ff1a1a"/>
<rect x="1963.4" y="710.9" width="6.4" height="6.4" fill="none" stroke="#111" stroke-width="1.8"/>
<circle cx="1873.6" cy="895.6" r="3.4" fill="none" stroke="#233" stroke-width="1.8"/>
<text class="ss" x="1761.3" y="623.7" font-size="21" font-weight="normal" text-anchor="middle" fill="#8a2eff" stroke="#8a2eff" stroke-width="0.5">IV</text>
<text class="ss" x="2111.6" y="623.5" font-size="21" font-weight="normal" text-anchor="middle" fill="#8a2eff" stroke="#8a2eff" stroke-width="0.5">I</text>
<text class="ss" x="1759.4" y="945.9" font-size="21" font-weight="normal" text-anchor="middle" fill="#8a2eff" stroke="#8a2eff" stroke-width="0.5">III</text>
<text class="ss" x="2114.8" y="945.9" font-size="21" font-weight="normal" text-anchor="middle" fill="#8a2eff" stroke="#8a2eff" stroke-width="0.5">II</text>
</g>
<g class="maze">
<ellipse cx="2390.8" cy="792.0" rx="177.6" ry="185.3" fill="none" stroke="#3333ff" stroke-width="2.6"/>
<path d="M2213.2000000000003,792.5H2568.4M2390.5,606.7V977.3" stroke="#4040ff" stroke-width="3.0" fill="none"/>
<circle cx="2432" cy="712.4" r="18.5" fill="none" stroke="#3333ff" stroke-width="2.4"/>
<path d="M2336.7,939.7C2334.7,938.4 2328.7,934.7 2324.4,931.6C2320.1,928.4 2315.3,924.3 2310.8,920.7C2306.3,917.0 2301.7,913.4 2297.2,909.8C2292.6,906.1 2288.1,902.5 2283.6,898.8C2279.0,895.2 2274.0,891.4 2269.9,887.9C2265.8,884.5 2262.2,881.6 2259.0,878.4C2255.8,875.2 2252.7,872.3 2250.8,868.9C2249.0,865.5 2248.6,862.5 2248.1,858.0C2247.7,853.4 2248.0,847.1 2248.1,841.6C2248.2,836.2 2248.3,830.7 2248.7,825.3C2249.0,819.8 2249.7,814.4 2250.3,808.9C2250.9,803.5 2251.7,798.0 2252.2,792.6C2252.8,787.1 2252.9,781.7 2253.6,776.2C2254.3,770.7 2254.9,765.3 2256.3,759.8C2257.7,754.4 2259.5,749.4 2261.7,743.5C2264.0,737.6 2266.7,730.3 2269.9,724.4C2273.1,718.5 2276.7,713.5 2280.8,708.1C2284.9,702.6 2289.5,696.5 2294.5,691.7C2299.5,686.9 2305.4,682.9 2310.8,679.4C2316.3,676.0 2321.7,673.3 2327.2,671.3C2332.6,669.2 2338.1,668.1 2343.5,667.2C2349.0,666.3 2354.9,666.3 2359.9,665.8C2364.9,665.4 2369.9,664.9 2373.5,664.5C2377.1,664.0 2378.9,662.4 2381.7,663.1C2384.4,663.8 2386.7,667.0 2389.8,668.5C2393.0,670.1 2397.1,671.3 2400.7,672.6C2404.4,674.0 2408.0,675.4 2411.7,676.7C2415.3,678.1 2418.9,678.8 2422.6,680.8C2426.2,682.9 2430.0,685.8 2433.5,689.0C2436.9,692.2 2440.5,696.3 2443.0,699.9C2445.5,703.5 2446.9,707.2 2448.4,710.8C2450.0,714.4 2451.9,719.9 2452.5,721.7" fill="none" stroke="#ff1a1a" stroke-width="2" stroke-linejoin="round" stroke-linecap="round"/>
<path d="M2335.3,671.3C2337.2,669.9 2342.2,665.1 2346.2,663.1C2350.3,661.0 2355.3,659.5 2359.9,659.0C2364.4,658.5 2369.9,659.5 2373.5,660.4C2377.1,661.3 2378.0,662.9 2381.7,664.5C2385.3,666.0 2390.8,668.1 2395.3,669.9C2399.8,671.7 2404.4,674.2 2408.9,675.4C2413.5,676.5 2418.0,676.6 2422.6,676.7C2427.1,676.8 2431.6,676.1 2436.2,675.9C2440.7,675.7 2445.7,674.1 2449.8,675.4C2453.9,676.6 2457.8,680.4 2460.7,683.5C2463.7,686.7 2465.7,690.3 2467.5,694.4C2469.3,698.5 2470.7,703.1 2471.6,708.1C2472.5,713.1 2472.5,719.0 2473.0,724.4C2473.4,729.9 2473.9,735.3 2474.3,740.8C2474.8,746.2 2474.8,752.1 2475.7,757.1C2476.6,762.1 2478.4,766.7 2479.8,770.7C2481.2,774.8 2482.7,778.0 2483.9,781.7C2485.0,785.3 2485.9,788.9 2486.6,792.6C2487.3,796.2 2487.5,800.5 2488.0,803.5C2488.4,806.4 2489.1,809.1 2489.3,810.3" fill="none" stroke="#ff1a1a" stroke-width="2" stroke-linejoin="round" stroke-linecap="round"/>
<path d="M2338.1,672.6C2335.8,674.9 2329.0,681.3 2324.4,686.3C2319.9,691.3 2315.1,697.2 2310.8,702.6C2306.5,708.1 2302.4,713.5 2298.5,719.0C2294.7,724.4 2290.6,729.9 2287.6,735.3C2284.7,740.8 2282.2,746.7 2280.8,751.7C2279.5,756.7 2279.0,760.8 2279.5,765.3C2279.9,769.8 2282.0,774.4 2283.6,778.9C2285.1,783.5 2286.7,788.0 2289.0,792.6C2291.3,797.1 2294.5,801.6 2297.2,806.2C2299.9,810.7 2302.6,815.3 2305.4,819.8C2308.1,824.4 2311.0,828.9 2313.5,833.4C2316.0,838.0 2318.1,842.5 2320.3,847.1C2322.6,851.6 2324.7,856.1 2327.2,860.7C2329.7,865.2 2332.6,869.8 2335.3,874.3C2338.1,878.9 2340.3,883.9 2343.5,887.9C2346.7,892.0 2350.3,895.9 2354.4,898.8C2358.5,901.8 2363.5,904.5 2368.0,905.7C2372.6,906.8 2377.1,906.3 2381.7,905.7C2386.2,905.0 2390.8,902.9 2395.3,901.6C2399.8,900.2 2404.4,898.4 2408.9,897.5C2413.5,896.6 2418.5,896.1 2422.6,896.1C2426.6,896.1 2430.7,896.6 2433.5,897.5C2436.2,898.4 2438.5,899.5 2438.9,901.6C2439.4,903.6 2438.0,907.7 2436.2,909.8C2434.4,911.8 2431.2,912.9 2428.0,913.8C2424.8,914.7 2420.7,915.4 2417.1,915.2C2413.5,915.0 2408.7,914.7 2406.2,912.5C2403.7,910.2 2402.6,905.7 2402.1,901.6C2401.7,897.5 2402.3,892.0 2403.5,887.9C2404.6,883.9 2406.7,880.7 2408.9,877.0C2411.2,873.4 2413.9,868.9 2417.1,866.1C2420.3,863.4 2424.4,861.1 2428.0,860.7C2431.6,860.2 2435.3,861.6 2438.9,863.4C2442.5,865.2 2445.7,869.3 2449.8,871.6C2453.9,873.9 2458.9,875.7 2463.4,877.0C2468.0,878.4 2473.0,878.2 2477.1,879.8C2481.2,881.4 2485.7,884.3 2488.0,886.6C2490.2,888.9 2491.1,890.9 2490.7,893.4C2490.2,895.9 2487.5,898.8 2485.2,901.6C2483.0,904.3 2479.8,907.0 2477.1,909.8C2474.3,912.5 2471.6,915.2 2468.9,917.9C2466.2,920.7 2463.2,924.5 2460.7,926.1C2458.2,927.7 2455.7,928.4 2453.9,927.5C2452.1,926.6 2451.4,923.6 2449.8,920.7C2448.2,917.7 2446.6,912.9 2444.4,909.8C2442.1,906.6 2437.5,902.9 2436.2,901.6" fill="none" stroke="#ff1a1a" stroke-width="2" stroke-linejoin="round" stroke-linecap="round"/>
<path d="M2357.7,855.8C2359.0,853.9 2362.7,848.1 2365.3,844.3C2368.0,840.6 2370.8,837.1 2373.5,833.4C2376.2,829.8 2378.9,826.2 2381.7,822.5C2384.4,818.9 2387.6,815.3 2389.8,811.6C2392.1,808.0 2393.5,804.8 2395.3,800.7C2397.1,796.6 2399.3,791.6 2400.7,787.1C2402.2,782.6 2403.3,778.0 2404.0,773.5C2404.7,768.9 2405.2,764.4 2404.8,759.8C2404.5,755.3 2403.2,750.8 2402.1,746.2C2401.0,741.7 2399.2,737.1 2398.0,732.6C2396.9,728.0 2395.5,723.5 2395.3,719.0C2395.1,714.4 2395.8,709.9 2396.7,705.3C2397.6,700.8 2398.9,695.3 2400.7,691.7C2402.6,688.1 2405.3,685.8 2407.6,683.5C2409.8,681.3 2413.2,679.0 2414.4,678.1" fill="none" stroke="#ff1a1a" stroke-width="2" stroke-linejoin="round" stroke-linecap="round"/>
<path d="M2434.8,808.9C2434.6,806.2 2433.9,798.0 2433.5,792.6C2433.0,787.1 2432.8,781.2 2432.1,776.2C2431.4,771.2 2431.0,766.9 2429.4,762.6C2427.8,758.3 2425.5,753.7 2422.6,750.3C2419.6,746.9 2415.7,743.9 2411.7,742.1C2407.6,740.3 2402.6,739.6 2398.0,739.4C2393.5,739.2 2388.9,739.4 2384.4,740.8C2379.9,742.1 2374.9,744.9 2370.8,747.6C2366.7,750.3 2363.0,753.7 2359.9,757.1C2356.7,760.5 2354.4,764.4 2351.7,768.0C2349.0,771.7 2346.2,774.8 2343.5,778.9C2340.8,783.0 2337.6,788.0 2335.3,792.6C2333.1,797.1 2331.7,801.6 2329.9,806.2C2328.1,810.7 2326.7,815.7 2324.4,819.8C2322.2,823.9 2319.2,827.3 2316.3,830.7C2313.3,834.1 2309.4,837.1 2306.7,840.3C2304.0,843.4 2301.3,846.4 2299.9,849.8C2298.5,853.2 2298.1,857.1 2298.5,860.7C2299.0,864.3 2300.6,868.0 2302.6,871.6C2304.7,875.2 2307.6,878.4 2310.8,882.5C2314.0,886.6 2317.6,892.0 2321.7,896.1C2325.8,900.2 2330.8,904.1 2335.3,907.0C2339.9,910.0 2344.0,912.3 2349.0,913.8C2354.0,915.4 2359.9,916.3 2365.3,916.6C2370.8,916.8 2376.2,916.1 2381.7,915.2C2387.1,914.3 2393.0,912.7 2398.0,911.1C2403.0,909.5 2407.1,907.7 2411.7,905.7C2416.2,903.6 2421.4,901.8 2425.3,898.8C2429.1,895.9 2432.1,892.0 2434.8,887.9C2437.5,883.9 2440.0,879.3 2441.6,874.3C2443.2,869.3 2444.1,863.4 2444.4,858.0C2444.6,852.5 2443.9,847.1 2443.0,841.6C2442.1,836.2 2440.0,829.8 2438.9,825.3C2437.8,820.7 2436.6,816.2 2436.2,814.4" fill="none" stroke="#ff1a1a" stroke-width="2" stroke-linejoin="round" stroke-linecap="round"/>
<path d="M2452.5,721.7C2453.4,722.6 2456.2,724.4 2458.0,727.1C2459.8,729.9 2462.1,734.0 2463.4,738.0C2464.8,742.1 2465.3,747.1 2466.2,751.7C2467.1,756.2 2467.5,761.2 2468.9,765.3C2470.3,769.4 2472.1,772.8 2474.3,776.2C2476.6,779.6 2480.0,782.6 2482.5,785.7C2485.0,788.9 2488.1,791.4 2489.3,795.3C2490.6,799.1 2490.0,806.6 2490.1,808.9" fill="none" stroke="#ff1a1a" stroke-width="2" stroke-linejoin="round" stroke-linecap="round"/>
<path d="M2489.3,810.3C2487.3,808.2 2481.4,802.1 2477.1,798.0C2472.7,793.9 2467.5,789.8 2463.4,785.7C2459.3,781.7 2455.0,777.8 2452.5,773.5C2450.0,769.2 2449.1,764.4 2448.4,759.8C2447.8,755.3 2448.0,750.8 2448.4,746.2C2448.9,741.7 2449.6,736.0 2451.2,732.6C2452.8,729.2 2455.3,726.9 2458.0,725.8C2460.7,724.6 2464.8,724.2 2467.5,725.8C2470.3,727.4 2472.5,731.5 2474.3,735.3C2476.2,739.2 2478.2,744.4 2478.4,748.9C2478.7,753.5 2477.3,758.5 2475.7,762.6C2474.1,766.7 2471.8,769.8 2468.9,773.5C2465.9,777.1 2461.6,781.2 2458.0,784.4C2454.4,787.6 2450.7,789.8 2447.1,792.6C2443.4,795.3 2439.8,797.8 2436.2,800.7C2432.5,803.7 2428.9,807.3 2425.3,810.3C2421.6,813.2 2418.0,815.7 2414.4,818.4C2410.7,821.2 2407.1,824.1 2403.5,826.6C2399.8,829.1 2395.8,830.9 2392.6,833.4C2389.4,835.9 2386.0,838.4 2384.4,841.6C2382.8,844.8 2382.6,849.3 2383.0,852.5C2383.5,855.7 2385.1,858.4 2387.1,860.7C2389.2,863.0 2392.1,865.2 2395.3,866.1C2398.5,867.1 2402.6,867.1 2406.2,866.1C2409.8,865.2 2413.5,862.3 2417.1,860.7C2420.7,859.1 2424.4,857.7 2428.0,856.6C2431.6,855.5 2435.3,854.8 2438.9,853.9C2442.5,853.0 2445.7,852.5 2449.8,851.2C2453.9,849.8 2459.3,847.7 2463.4,845.7C2467.5,843.7 2471.2,841.8 2474.3,838.9C2477.5,835.9 2480.5,831.8 2482.5,828.0C2484.6,824.1 2485.5,818.7 2486.6,815.7C2487.7,812.8 2488.9,811.2 2489.3,810.3" fill="none" stroke="#ff1a1a" stroke-width="2" stroke-linejoin="round" stroke-linecap="round"/>
<path d="M2449.8,675.4C2452.1,676.3 2459.3,678.1 2463.4,680.8C2467.5,683.5 2471.4,687.6 2474.3,691.7C2477.3,695.8 2479.1,700.8 2481.2,705.3C2483.2,709.9 2485.0,714.4 2486.6,719.0C2488.2,723.5 2489.8,728.0 2490.7,732.6C2491.6,737.1 2491.4,742.1 2492.1,746.2C2492.7,750.3 2493.6,753.5 2494.8,757.1C2495.9,760.8 2497.7,763.9 2498.9,768.0C2500.0,772.1 2500.9,777.1 2501.6,781.7C2502.3,786.2 2503.0,790.7 2503.0,795.3C2503.0,799.8 2502.5,804.4 2501.6,808.9C2500.7,813.4 2499.3,818.0 2497.5,822.5C2495.7,827.1 2493.4,831.6 2490.7,836.2C2488.0,840.7 2484.3,845.2 2481.2,849.8C2478.0,854.3 2475.0,859.3 2471.6,863.4C2468.2,867.5 2464.3,870.7 2460.7,874.3C2457.1,878.0 2453.4,881.6 2449.8,885.2C2446.2,888.9 2443.0,892.5 2438.9,896.1C2434.8,899.8 2427.6,905.2 2425.3,907.0" fill="none" stroke="#ff1a1a" stroke-width="2" stroke-linejoin="round" stroke-linecap="round"/>
<circle cx="2489.9" cy="808.9" r="3.2" fill="#fff" stroke="#ff1a1a" stroke-width="1.6"/>
<rect x="2354.5" y="853.4" width="6.4" height="6.4" fill="none" stroke="#111" stroke-width="1.8"/>
<circle cx="2337.5" cy="940.3" r="3.4" fill="none" stroke="#233" stroke-width="1.8"/>
<text class="ss" x="2227.7" y="629.2" font-size="21" font-weight="normal" text-anchor="middle" fill="#8a2eff" stroke="#8a2eff" stroke-width="0.5">IV</text>
<text class="ss" x="2573.3" y="629.2" font-size="21" font-weight="normal" text-anchor="middle" fill="#8a2eff" stroke="#8a2eff" stroke-width="0.5">I</text>
<text class="ss" x="2226.3" y="954.9" font-size="21" font-weight="normal" text-anchor="middle" fill="#8a2eff" stroke="#8a2eff" stroke-width="0.5">III</text>
<text class="ss" x="2577.0" y="954.9" font-size="21" font-weight="normal" text-anchor="middle" fill="#8a2eff" stroke="#8a2eff" stroke-width="0.5">II</text>
</g>
<g class="maze">
<ellipse cx="2844.0" cy="789.0" rx="180.6" ry="181.4" fill="none" stroke="#3333ff" stroke-width="2.6"/>
<path d="M2663.4,789.5H3024.6M2843.7,607.6V970.4" stroke="#4040ff" stroke-width="3.0" fill="none"/>
<circle cx="2885.8" cy="711.7" r="18.5" fill="none" stroke="#3333ff" stroke-width="2.4"/>
<path d="M2700.9,770.9C2699.8,772.7 2696.1,778.2 2694.1,781.8C2692.0,785.4 2689.5,790.9 2688.6,792.7" fill="none" stroke="#ff1a1a" stroke-width="2" stroke-linejoin="round" stroke-linecap="round"/>
<path d="M2709.1,700.0C2710.4,698.6 2714.1,694.5 2717.3,691.8C2720.4,689.1 2725.0,686.8 2728.2,683.6C2731.4,680.4 2733.6,676.3 2736.4,672.7C2739.1,669.1 2740.9,664.8 2744.5,661.8C2748.2,658.9 2753.2,656.6 2758.2,655.0C2763.2,653.4 2769.1,653.4 2774.5,652.3C2780.0,651.1 2785.4,650.2 2790.9,648.2C2796.3,646.1 2802.3,642.7 2807.3,640.0C2812.3,637.3 2816.3,634.1 2820.9,631.8C2825.4,629.5 2830.4,627.5 2834.5,626.4C2838.6,625.2 2841.8,624.3 2845.4,625.0C2849.1,625.7 2852.7,628.2 2856.3,630.4C2860.0,632.7 2863.6,636.1 2867.2,638.6C2870.9,641.1 2874.1,643.5 2878.2,645.4C2882.2,647.4 2886.8,649.4 2891.8,650.4C2896.8,651.3 2903.2,650.8 2908.2,650.9C2913.2,651.0 2917.9,650.4 2921.8,650.9C2925.7,651.4 2929.3,650.9 2931.3,653.6C2933.4,656.4 2933.4,662.3 2934.1,667.3C2934.7,672.3 2935.4,678.2 2935.4,683.6C2935.4,689.1 2935.0,694.5 2934.1,700.0C2933.2,705.4 2931.6,710.9 2930.0,716.3C2928.4,721.8 2926.6,727.3 2924.5,732.7C2922.5,738.2 2920.2,744.1 2917.7,749.1C2915.2,754.1 2912.5,758.2 2909.5,762.7C2906.6,767.3 2903.4,771.8 2900.0,776.3C2896.6,780.9 2890.9,787.7 2889.1,790.0" fill="none" stroke="#ff1a1a" stroke-width="2" stroke-linejoin="round" stroke-linecap="round"/>
<path d="M2709.1,700.0C2708.9,702.7 2707.9,710.4 2707.7,716.3C2707.5,722.3 2707.5,729.5 2707.7,735.4C2707.9,741.3 2708.4,745.9 2709.1,751.8C2709.8,757.7 2711.1,764.5 2711.8,770.9C2712.5,777.2 2712.9,786.8 2713.2,790.0" fill="none" stroke="#ff1a1a" stroke-width="2" stroke-linejoin="round" stroke-linecap="round"/>
<path d="M2943.6,664.5C2944.3,666.4 2947.0,671.3 2947.7,675.4C2948.4,679.5 2948.6,684.5 2947.7,689.1C2946.8,693.6 2943.6,699.1 2942.2,702.7C2940.9,706.3 2939.1,707.7 2939.5,710.9C2940.0,714.1 2942.5,718.2 2945.0,721.8C2947.5,725.4 2951.1,729.3 2954.5,732.7C2957.9,736.1 2962.0,739.1 2965.4,742.3C2968.8,745.4 2972.5,747.9 2975.0,751.8C2977.5,755.7 2979.5,760.9 2980.4,765.4C2981.3,770.0 2981.3,774.5 2980.4,779.1C2979.5,783.6 2975.9,790.4 2975.0,792.7" fill="none" stroke="#ff1a1a" stroke-width="2" stroke-linejoin="round" stroke-linecap="round"/>
<path d="M2943.6,664.5C2943.2,666.8 2942.0,673.2 2940.9,678.2C2939.7,683.2 2938.4,689.1 2936.8,694.5C2935.2,700.0 2933.4,705.4 2931.3,710.9C2929.3,716.3 2926.8,722.3 2924.5,727.3C2922.2,732.3 2919.5,736.3 2917.7,740.9C2915.9,745.4 2915.0,750.0 2913.6,754.5C2912.2,759.1 2910.9,763.6 2909.5,768.2C2908.2,772.7 2906.3,778.2 2905.4,781.8C2904.5,785.4 2904.3,788.6 2904.1,790.0" fill="none" stroke="#ff1a1a" stroke-width="2" stroke-linejoin="round" stroke-linecap="round"/>
<path d="M2856.3,765.4C2854.1,763.6 2847.7,757.9 2842.7,754.5C2837.7,751.1 2831.8,747.3 2826.3,745.0C2820.9,742.6 2815.4,741.1 2810.0,740.3C2804.5,739.6 2798.6,739.6 2793.6,740.3C2788.6,741.1 2784.5,742.6 2780.0,745.0C2775.4,747.3 2770.4,751.1 2766.3,754.5C2762.3,757.9 2758.6,761.3 2755.4,765.4C2752.3,769.5 2749.2,774.5 2747.3,779.1C2745.4,783.6 2744.5,790.4 2744.0,792.7" fill="none" stroke="#ff1a1a" stroke-width="2" stroke-linejoin="round" stroke-linecap="round"/>
<path d="M2900.0,776.3C2897.2,775.7 2889.1,773.2 2883.6,772.2C2878.2,771.3 2872.7,770.9 2867.2,770.9C2861.8,770.9 2855.9,770.9 2850.9,772.2C2845.9,773.6 2840.7,776.1 2837.3,779.1C2833.8,782.0 2831.6,788.2 2830.4,790.0" fill="none" stroke="#ff1a1a" stroke-width="2" stroke-linejoin="round" stroke-linecap="round"/>
<path d="M2870.0,773.6C2871.8,775.0 2878.4,779.1 2880.9,781.8C2883.4,784.5 2884.3,788.6 2885.0,790.0" fill="none" stroke="#ff1a1a" stroke-width="2" stroke-linejoin="round" stroke-linecap="round"/>
<path d="M2883.6,772.2C2885.9,773.4 2893.2,776.1 2897.2,779.1C2901.3,782.0 2906.3,788.2 2908.2,790.0" fill="none" stroke="#ff1a1a" stroke-width="2" stroke-linejoin="round" stroke-linecap="round"/>
<path d="M2856.3,765.4 L2870.0,773.6" fill="none" stroke="#ff1a1a" stroke-width="2" stroke-linejoin="round" stroke-linecap="round"/>
<path d="M2685.7,790.0C2685.5,791.8 2684.8,797.3 2684.8,801.0C2684.8,804.7 2684.8,808.4 2685.7,812.0C2686.6,815.7 2688.6,819.4 2690.3,823.0C2692.0,826.7 2693.8,830.4 2695.8,834.0C2697.8,837.7 2700.2,841.4 2702.2,845.1C2704.2,848.7 2706.3,852.4 2707.7,856.1C2709.1,859.7 2709.9,863.4 2710.5,867.1C2711.1,870.7 2710.3,875.0 2711.4,878.1C2712.5,881.1 2714.8,883.0 2716.9,885.4C2719.0,887.9 2721.5,890.0 2724.2,892.8C2727.0,895.5 2730.3,898.9 2733.4,901.9C2736.5,905.0 2739.2,908.1 2742.6,911.1C2745.9,914.2 2749.6,917.5 2753.6,920.3C2757.6,923.1 2762.2,925.2 2766.4,927.6C2770.7,930.1 2775.0,932.8 2779.3,935.0C2783.6,937.1 2787.5,938.8 2792.1,940.5C2796.7,942.2 2801.9,944.0 2806.8,945.1C2811.7,946.1 2816.6,946.8 2821.5,946.9C2826.4,947.1 2831.3,946.6 2836.2,946.0C2841.1,945.4 2846.0,944.3 2850.9,943.2C2855.8,942.2 2860.6,940.6 2865.5,939.6C2870.4,938.5 2875.0,938.3 2880.2,936.8C2885.4,935.3 2891.2,932.8 2896.7,930.4C2902.2,927.9 2908.1,925.0 2913.3,922.1C2918.5,919.2 2923.4,916.0 2927.9,913.0C2932.5,909.9 2936.8,907.1 2940.8,903.8C2944.8,900.4 2948.7,896.4 2951.8,892.8C2954.9,889.1 2957.0,885.4 2959.1,881.8C2961.3,878.1 2963.6,874.4 2964.6,870.7C2965.7,867.1 2965.9,863.4 2965.6,859.7C2965.3,856.1 2964.2,852.1 2962.8,848.7C2961.4,845.4 2959.7,842.0 2957.3,839.6C2954.9,837.1 2951.5,834.8 2948.1,834.0C2944.8,833.3 2940.8,835.1 2937.1,835.0C2933.4,834.8 2929.8,834.0 2926.1,833.1C2922.4,832.2 2918.5,830.2 2915.1,829.5C2911.7,828.7 2907.4,828.7 2905.9,828.5" fill="none" stroke="#ff1a1a" stroke-width="2" stroke-linejoin="round" stroke-linecap="round"/>
<path d="M2715.1,790.0C2715.2,791.8 2715.4,797.3 2716.0,801.0C2716.6,804.7 2717.5,808.4 2718.7,812.0C2719.9,815.7 2721.8,819.4 2723.3,823.0C2724.8,826.7 2726.2,830.4 2727.9,834.0C2729.6,837.7 2731.6,841.4 2733.4,845.1C2735.2,848.7 2737.1,852.7 2738.9,856.1C2740.7,859.4 2742.3,862.2 2744.4,865.2C2746.6,868.3 2749.6,871.4 2751.8,874.4C2753.9,877.5 2755.6,880.5 2757.3,883.6C2758.9,886.7 2760.6,889.7 2761.9,892.8C2763.1,895.8 2763.5,899.2 2764.6,901.9C2765.7,904.7 2766.1,906.5 2768.3,909.3C2770.4,912.0 2774.1,915.4 2777.5,918.5C2780.8,921.5 2784.8,924.6 2788.5,927.6C2792.1,930.7 2795.5,934.4 2799.5,936.8C2803.5,939.3 2808.0,940.9 2812.3,942.3C2816.6,943.7 2823.0,944.6 2825.2,945.1" fill="none" stroke="#ff1a1a" stroke-width="2" stroke-linejoin="round" stroke-linecap="round"/>
<path d="M2744.4,790.0C2744.3,791.8 2743.2,797.3 2743.5,801.0C2743.8,804.7 2745.2,808.7 2746.3,812.0C2747.3,815.4 2748.1,818.8 2749.9,821.2C2751.8,823.6 2754.8,824.6 2757.3,826.7C2759.7,828.8 2762.2,831.6 2764.6,834.0C2767.1,836.5 2769.5,838.9 2771.9,841.4C2774.4,843.8 2776.5,846.3 2779.3,848.7C2782.0,851.2 2785.4,853.9 2788.5,856.1C2791.5,858.2 2794.6,859.7 2797.6,861.6C2800.7,863.4 2803.8,865.2 2806.8,867.1C2809.9,868.9 2812.9,871.1 2816.0,872.6C2819.1,874.1 2822.4,876.3 2825.2,876.3C2827.9,876.3 2830.4,874.7 2832.5,872.6C2834.6,870.4 2836.5,866.8 2838.0,863.4C2839.5,860.0 2841.2,856.1 2841.7,852.4C2842.1,848.7 2841.7,845.1 2840.8,841.4C2839.8,837.7 2837.6,834.0 2836.2,830.4C2834.8,826.7 2833.4,823.0 2832.5,819.4C2831.6,815.7 2831.3,811.7 2830.7,808.4C2830.1,805.0 2828.8,802.2 2828.8,799.2C2828.8,796.1 2830.4,791.5 2830.7,790.0" fill="none" stroke="#ff1a1a" stroke-width="2" stroke-linejoin="round" stroke-linecap="round"/>
<path d="M2711.4,878.1C2711.1,876.3 2709.2,871.4 2709.6,867.1C2709.9,862.8 2711.7,857.0 2713.2,852.4C2714.8,847.8 2716.6,843.5 2718.7,839.6C2720.9,835.6 2723.3,831.1 2726.1,828.5C2728.8,825.9 2732.2,824.9 2735.2,824.0C2738.3,823.0 2741.1,822.9 2744.4,823.0C2747.8,823.2 2751.8,823.3 2755.4,824.9C2759.1,826.4 2762.8,830.1 2766.4,832.2C2770.1,834.4 2773.8,836.2 2777.5,837.7C2781.1,839.2 2784.8,840.3 2788.5,841.4C2792.1,842.5 2795.5,843.5 2799.5,844.1C2803.5,844.8 2808.0,844.3 2812.3,845.1C2816.6,845.8 2821.2,847.5 2825.2,848.7C2829.1,849.9 2833.1,851.5 2836.2,852.4C2839.2,853.3 2842.3,853.9 2843.5,854.2" fill="none" stroke="#ff1a1a" stroke-width="2" stroke-linejoin="round" stroke-linecap="round"/>
<path d="M2727.9,889.1C2729.7,887.3 2734.9,881.8 2738.9,878.1C2742.9,874.4 2747.8,870.4 2751.8,867.1C2755.7,863.7 2759.1,861.0 2762.8,857.9C2766.4,854.8 2770.1,851.6 2773.8,848.7C2777.5,845.8 2781.1,842.9 2784.8,840.5C2788.5,838.0 2792.1,836.0 2795.8,834.0C2799.5,832.1 2803.1,830.4 2806.8,828.5C2810.5,826.7 2814.2,824.9 2817.8,823.0C2821.5,821.2 2824.9,819.1 2828.8,817.5C2832.8,816.0 2837.4,814.5 2841.7,813.9C2846.0,813.2 2850.2,813.2 2854.5,813.9C2858.8,814.5 2863.1,816.0 2867.4,817.5C2871.7,819.1 2876.2,821.5 2880.2,823.0C2884.2,824.6 2887.3,825.8 2891.2,826.7C2895.2,827.6 2899.8,828.8 2904.1,828.5C2908.4,828.2 2912.6,826.1 2916.9,824.9C2921.2,823.6 2925.5,822.7 2929.8,821.2C2934.1,819.7 2938.6,817.8 2942.6,815.7C2946.6,813.6 2950.0,811.1 2953.6,808.4C2957.3,805.6 2961.6,802.2 2964.6,799.2C2967.7,796.1 2970.8,791.5 2972.0,790.0" fill="none" stroke="#ff1a1a" stroke-width="2" stroke-linejoin="round" stroke-linecap="round"/>
<path d="M2738.9,903.8C2740.4,901.9 2744.7,896.7 2748.1,892.8C2751.5,888.8 2755.4,884.2 2759.1,879.9C2762.8,875.6 2766.4,871.1 2770.1,867.1C2773.8,863.1 2777.5,859.1 2781.1,856.1C2784.8,853.0 2788.5,850.6 2792.1,848.7C2795.8,846.9 2799.2,846.3 2803.1,845.1C2807.1,843.8 2811.7,842.6 2816.0,841.4C2820.3,840.2 2824.6,838.8 2828.8,837.7C2833.1,836.6 2837.4,835.9 2841.7,835.0C2846.0,834.0 2850.2,833.1 2854.5,832.2C2858.8,831.3 2863.1,830.1 2867.4,829.5C2871.7,828.8 2875.6,828.8 2880.2,828.5C2884.8,828.2 2890.6,827.8 2894.9,827.6C2899.2,827.5 2904.1,827.6 2905.9,827.6" fill="none" stroke="#ff1a1a" stroke-width="2" stroke-linejoin="round" stroke-linecap="round"/>
<path d="M2905.9,790.0C2906.1,791.8 2906.7,797.3 2906.8,801.0C2907.0,804.7 2907.0,808.4 2906.8,812.0C2906.7,815.7 2906.4,819.4 2905.9,823.0C2905.5,826.7 2905.3,830.4 2904.1,834.0C2902.9,837.7 2900.7,841.7 2898.6,845.1C2896.4,848.4 2894.3,851.2 2891.2,854.2C2888.2,857.3 2883.9,860.7 2880.2,863.4C2876.6,866.2 2872.9,868.3 2869.2,870.7C2865.5,873.2 2861.9,875.9 2858.2,878.1C2854.5,880.2 2850.9,881.8 2847.2,883.6C2843.5,885.4 2839.8,887.6 2836.2,889.1C2832.5,890.6 2828.8,891.5 2825.2,892.8C2821.5,894.0 2818.1,895.2 2814.2,896.4C2810.2,897.7 2805.6,898.9 2801.3,900.1C2797.0,901.3 2792.4,902.9 2788.5,903.8C2784.5,904.7 2779.3,905.3 2777.5,905.6" fill="none" stroke="#ff1a1a" stroke-width="2" stroke-linejoin="round" stroke-linecap="round"/>
<path d="M2883.9,790.0C2885.1,791.5 2889.4,796.1 2891.2,799.2C2893.1,802.2 2894.6,805.3 2894.9,808.4C2895.2,811.4 2894.3,814.2 2893.1,817.5C2891.8,820.9 2889.4,824.9 2887.6,828.5C2885.7,832.2 2883.9,835.9 2882.1,839.6C2880.2,843.2 2878.7,846.9 2876.6,850.6C2874.4,854.2 2872.0,858.2 2869.2,861.6C2866.5,864.9 2863.1,867.7 2860.0,870.7C2857.0,873.8 2853.9,877.2 2850.9,879.9C2847.8,882.7 2844.7,884.8 2841.7,887.3C2838.6,889.7 2835.3,892.2 2832.5,894.6C2829.8,897.1 2827.6,899.2 2825.2,901.9C2822.7,904.7 2820.0,908.1 2817.8,911.1C2815.7,914.2 2814.2,917.2 2812.3,920.3C2810.5,923.4 2808.3,926.7 2806.8,929.5C2805.3,932.2 2803.8,935.6 2803.1,936.8" fill="none" stroke="#ff1a1a" stroke-width="2" stroke-linejoin="round" stroke-linecap="round"/>
<path d="M2880.2,790.0C2879.3,791.8 2876.9,797.3 2874.7,801.0C2872.6,804.7 2869.8,808.4 2867.4,812.0C2864.9,815.7 2862.5,819.4 2860.0,823.0C2857.6,826.7 2855.1,830.4 2852.7,834.0C2850.2,837.7 2847.5,841.1 2845.4,845.1C2843.2,849.0 2841.4,853.9 2839.8,857.9C2838.3,861.9 2837.7,865.2 2836.2,868.9C2834.6,872.6 2832.5,876.6 2830.7,879.9C2828.8,883.3 2826.1,887.6 2825.2,889.1" fill="none" stroke="#ff1a1a" stroke-width="2" stroke-linejoin="round" stroke-linecap="round"/>
<path d="M2766.4,890.9C2769.5,890.8 2778.7,890.3 2784.8,890.0C2790.9,889.7 2797.0,889.4 2803.1,889.1C2809.3,888.8 2815.1,888.3 2821.5,888.2C2827.9,888.0 2835.0,888.0 2841.7,888.2C2848.4,888.3 2855.4,889.1 2861.9,889.1C2868.3,889.1 2874.1,888.8 2880.2,888.2C2886.3,887.6 2892.5,886.2 2898.6,885.4C2904.7,884.7 2910.8,884.1 2916.9,883.6C2923.0,883.1 2929.2,883.0 2935.3,882.7C2941.4,882.4 2948.7,882.1 2953.6,881.8C2958.5,881.5 2962.8,881.0 2964.6,880.8" fill="none" stroke="#ff1a1a" stroke-width="2" stroke-linejoin="round" stroke-linecap="round"/>
<path d="M2939.0,835.0C2939.6,833.9 2940.8,830.8 2942.6,828.5C2944.5,826.2 2947.2,823.0 2950.0,821.2C2952.7,819.4 2955.8,818.1 2959.1,817.5C2962.5,816.9 2967.1,816.6 2970.1,817.5C2973.2,818.4 2975.3,820.6 2977.5,823.0C2979.6,825.5 2981.6,828.8 2983.0,832.2C2984.4,835.6 2985.7,839.9 2985.7,843.2C2985.7,846.6 2984.7,849.6 2983.0,852.4C2981.3,855.1 2978.1,857.3 2975.7,859.7C2973.2,862.2 2970.0,864.3 2968.3,867.1C2966.6,869.8 2966.0,874.7 2965.6,876.3" fill="none" stroke="#ff1a1a" stroke-width="2" stroke-linejoin="round" stroke-linecap="round"/>
<path d="M2929.8,835.9C2930.4,837.4 2933.1,842.0 2933.4,845.1C2933.8,848.1 2932.8,851.2 2931.6,854.2C2930.4,857.3 2928.6,860.7 2926.1,863.4C2923.7,866.2 2920.3,868.6 2916.9,870.7C2913.6,872.9 2909.6,874.7 2905.9,876.3C2902.2,877.8 2898.6,878.7 2894.9,879.9C2891.2,881.1 2887.6,882.4 2883.9,883.6C2880.2,884.8 2876.6,886.2 2872.9,887.3C2869.2,888.3 2863.7,889.6 2861.9,890.0" fill="none" stroke="#ff1a1a" stroke-width="2" stroke-linejoin="round" stroke-linecap="round"/>
<path d="M2905.9,892.8C2904.7,894.6 2901.3,899.8 2898.6,903.8C2895.8,907.8 2892.2,912.7 2889.4,916.6C2886.6,920.6 2883.9,924.3 2882.1,927.6C2880.2,931.0 2878.7,934.7 2878.4,936.8C2878.1,939.0 2879.9,939.9 2880.2,940.5" fill="none" stroke="#ff1a1a" stroke-width="2" stroke-linejoin="round" stroke-linecap="round"/>
<path d="M2788.5,914.8C2790.9,914.8 2798.6,914.2 2803.1,914.8C2807.7,915.4 2811.7,917.2 2816.0,918.5C2820.3,919.7 2824.6,920.9 2828.8,922.1C2833.1,923.4 2837.4,924.6 2841.7,925.8C2846.0,927.0 2850.2,928.3 2854.5,929.5C2858.8,930.7 2863.4,931.9 2867.4,933.1C2871.4,934.4 2876.6,936.2 2878.4,936.8" fill="none" stroke="#ff1a1a" stroke-width="2" stroke-linejoin="round" stroke-linecap="round"/>
<path d="M2740.7,909.3C2741.7,908.1 2743.8,903.5 2746.3,901.9C2748.7,900.4 2752.7,899.8 2755.4,900.1C2758.2,900.4 2762.2,901.9 2762.8,903.8C2763.4,905.6 2760.3,908.7 2759.1,911.1C2757.9,913.6 2755.1,916.6 2755.4,918.5C2755.7,920.3 2758.8,922.7 2760.9,922.1C2763.1,921.5 2766.1,916.9 2768.3,914.8C2770.4,912.7 2771.6,910.5 2773.8,909.3C2775.9,908.1 2778.7,907.5 2781.1,907.5C2783.6,907.5 2787.5,907.8 2788.5,909.3C2789.4,910.8 2787.5,914.5 2786.6,916.6C2785.7,918.8 2782.7,920.6 2783.0,922.1C2783.3,923.7 2786.3,925.8 2788.5,925.8C2790.6,925.8 2794.0,921.5 2795.8,922.1C2797.6,922.7 2799.2,927.0 2799.5,929.5C2799.8,931.9 2798.3,934.7 2797.6,936.8C2797.0,939.0 2796.1,941.4 2795.8,942.3" fill="none" stroke="#ff1a1a" stroke-width="2" stroke-linejoin="round" stroke-linecap="round"/>
<path d="M2748.1,916.6C2749.3,915.4 2752.4,911.1 2755.4,909.3C2758.5,907.5 2762.8,906.7 2766.4,905.6C2770.1,904.5 2773.8,903.8 2777.5,902.9C2781.1,901.9 2784.2,901.0 2788.5,900.1C2792.7,899.2 2798.3,898.3 2803.1,897.4C2808.0,896.4 2812.9,895.5 2817.8,894.6C2822.7,893.7 2830.1,892.3 2832.5,891.9" fill="none" stroke="#ff1a1a" stroke-width="2" stroke-linejoin="round" stroke-linecap="round"/>
<path d="M2762.8,925.8C2764.0,924.6 2767.7,920.3 2770.1,918.5C2772.6,916.6 2775.0,914.8 2777.5,914.8C2779.9,914.8 2782.3,916.6 2784.8,918.5C2787.2,920.3 2789.7,923.1 2792.1,925.8C2794.6,928.6 2797.0,932.5 2799.5,935.0C2801.9,937.4 2803.8,939.0 2806.8,940.5C2809.9,942.0 2814.2,943.9 2817.8,944.2C2821.5,944.5 2825.2,942.6 2828.8,942.3C2832.5,942.0 2838.0,942.3 2839.8,942.3" fill="none" stroke="#ff1a1a" stroke-width="2" stroke-linejoin="round" stroke-linecap="round"/>
<path d="M2801.3,938.7C2803.5,938.0 2810.2,935.3 2814.2,935.0C2818.1,934.7 2821.5,935.9 2825.2,936.8C2828.8,937.7 2831.9,939.6 2836.2,940.5C2840.5,941.4 2846.6,942.6 2850.9,942.3C2855.1,942.0 2858.2,939.9 2861.9,938.7C2865.5,937.4 2871.0,935.6 2872.9,935.0" fill="none" stroke="#ff1a1a" stroke-width="2" stroke-linejoin="round" stroke-linecap="round"/>
<path d="M2915.1,790.0C2915.1,791.8 2915.2,797.3 2915.1,801.0C2914.9,804.7 2914.5,808.4 2914.2,812.0C2913.9,815.7 2913.7,820.0 2913.3,823.0C2912.8,826.1 2911.7,829.2 2911.4,830.4" fill="none" stroke="#ff1a1a" stroke-width="2" stroke-linejoin="round" stroke-linecap="round"/>
<rect x="2697.7" y="767.7" width="6.4" height="6.4" fill="none" stroke="#111" stroke-width="1.8"/>
<circle cx="2789.4" cy="916.6" r="3.4" fill="none" stroke="#233" stroke-width="1.8"/>
<text class="ss" x="2677.7" y="630.5" font-size="21" font-weight="normal" text-anchor="middle" fill="#8a2eff" stroke="#8a2eff" stroke-width="0.5">IV</text>
<text class="ss" x="3030.3" y="630.5" font-size="21" font-weight="normal" text-anchor="middle" fill="#8a2eff" stroke="#8a2eff" stroke-width="0.5">I</text>
<text class="ss" x="2675.8" y="948.8" font-size="21" font-weight="normal" text-anchor="middle" fill="#8a2eff" stroke="#8a2eff" stroke-width="0.5">III</text>
<text class="ss" x="3033.6" y="948.8" font-size="21" font-weight="normal" text-anchor="middle" fill="#8a2eff" stroke="#8a2eff" stroke-width="0.5">II</text>
</g>
</g>
<g id="titles">
<text class="sf" x="466.6" y="527.7" font-size="57.4" font-weight="bold" text-anchor="start" fill="#000" >control</text>
<text class="sf" x="965.6" y="531.8" font-size="57.4" font-weight="bold" text-anchor="start" fill="#000" >Aβ</text>
<text class="sf" x="1861.0" y="70.8" font-size="57.4" font-weight="bold" text-anchor="start" fill="#000" >Aβ</text>
<text class="sf" x="2274.0" y="72.2" font-size="57.4" font-weight="bold" text-anchor="start" fill="#000" >Aβ+Fc</text>
<text class="sf" x="2721.0" y="73.0" font-size="57.4" font-weight="bold" text-anchor="start" fill="#000" >Aβ+MSAB</text>
<text class="sf" x="1723.5" y="560.3" font-size="56.6" font-weight="bold" text-anchor="start" fill="#000" >Aβ+curcumin</text>
<text class="sf" x="2115.0" y="555.0" font-size="57.4" font-weight="bold" text-anchor="start" fill="#000" >Aβ+curcumin+Fc</text>
<text class="sf" x="2596.5" y="551.4" font-size="57.4" font-weight="bold" text-anchor="start" fill="#000" >Aβ+curcumin+MSAB</text>
</g>
<text class="sf" x="29.5" y="1097.5" font-size="120.5" font-weight="bold" text-anchor="start" fill="#000" >C</text>
<text class="sf" x="1394.5" y="1102.0" font-size="119.5" font-weight="bold" text-anchor="start" fill="#000" >D</text>
<g id="panelC">
<rect x="383.5" y="1217.9" width="123.0" height="55.6" fill="#bfe0fa" stroke="#000" stroke-width="11"/>
<rect x="384.5" y="1313.5" width="124.5" height="55.0" fill="#00a2ff" stroke="#000" stroke-width="11"/>
<text class="sf" x="546.0" y="1271.5" font-size="86" font-weight="bold" text-anchor="start" fill="#000" >control</text>
<text class="sf" x="544" y="1377" font-size="88" font-weight="bold">Aβ<tspan font-size="69" dy="19">1-42</tspan></text>
<path d="M357,1457V2566" stroke="#000" stroke-width="12" stroke-linecap="round" fill="none"/>
<path d="M313,2558.0H1065" stroke="#000" stroke-width="12" stroke-linecap="round" fill="none"/>
<path d="M313,2558.0H357" stroke="#000" stroke-width="12" stroke-linecap="round" fill="none"/>
<text class="sf" x="301.0" y="2588.4" font-size="80" font-weight="bold" text-anchor="end" fill="#000" >0</text>
<path d="M313,2375.2H357" stroke="#000" stroke-width="12" stroke-linecap="round" fill="none"/>
<text class="sf" x="301.0" y="2405.6" font-size="80" font-weight="bold" text-anchor="end" fill="#000" >10</text>
<path d="M313,2192.4H357" stroke="#000" stroke-width="12" stroke-linecap="round" fill="none"/>
<text class="sf" x="301.0" y="2222.8" font-size="80" font-weight="bold" text-anchor="end" fill="#000" >20</text>
<path d="M313,2009.6H357" stroke="#000" stroke-width="12" stroke-linecap="round" fill="none"/>
<text class="sf" x="301.0" y="2040.0" font-size="80" font-weight="bold" text-anchor="end" fill="#000" >30</text>
<path d="M313,1826.8H357" stroke="#000" stroke-width="12" stroke-linecap="round" fill="none"/>
<text class="sf" x="301.0" y="1857.2" font-size="80" font-weight="bold" text-anchor="end" fill="#000" >40</text>
<path d="M313,1644.0H357" stroke="#000" stroke-width="12" stroke-linecap="round" fill="none"/>
<text class="sf" x="301.0" y="1674.4" font-size="80" font-weight="bold" text-anchor="end" fill="#000" >50</text>
<path d="M313,1461.2H357" stroke="#000" stroke-width="12" stroke-linecap="round" fill="none"/>
<text class="sf" x="301.0" y="1491.6" font-size="80" font-weight="bold" text-anchor="end" fill="#000" >60</text>
<text class="sf" transform="translate(169.5,2556.5) rotate(-90) scale(0.987,1)" font-size="89.5" font-weight="bold">Time in target quadrant (%)</text>
<path d="M497.0,1783.0V1856.0" stroke="#000" stroke-width="6.6" fill="none"/>
<path d="M447.0,1783.0H547.0" stroke="#000" stroke-width="6.6" stroke-linecap="round" fill="none"/>
<path d="M919.7,2021.0V2070.0" stroke="#000" stroke-width="6.6" fill="none"/>
<path d="M870.0,2021.0H969.6" stroke="#000" stroke-width="6.6" stroke-linecap="round" fill="none"/>
<rect x="402.2" y="1856.8" width="190.5" height="701.2" fill="#bfe0fa" stroke="#000" stroke-width="11.5"/>
<rect x="824.8" y="2071.2" width="190.5" height="486.8" fill="#00a2ff" stroke="#000" stroke-width="11.5"/>
<circle cx="497.1" cy="1582.7" r="16.3" fill="none" stroke="#000" stroke-width="11.4"/>
<circle cx="560.9" cy="1549.9" r="16.3" fill="none" stroke="#000" stroke-width="11.4"/>
<circle cx="497.1" cy="1775.1" r="16.3" fill="none" stroke="#000" stroke-width="11.4"/>
<circle cx="434.4" cy="1934.4" r="16.3" fill="none" stroke="#000" stroke-width="11.4"/>
<circle cx="497.1" cy="1953.4" r="16.3" fill="none" stroke="#000" stroke-width="11.4"/>
<circle cx="560.9" cy="1941.4" r="16.3" fill="none" stroke="#000" stroke-width="11.4"/>
<circle cx="497.1" cy="2018.9" r="16.3" fill="none" stroke="#000" stroke-width="11.4"/>
<circle cx="497.1" cy="2058.7" r="16.3" fill="none" stroke="#000" stroke-width="11.4"/>
<circle cx="919.7" cy="1927.3" r="16.3" fill="none" stroke="#000" stroke-width="11.4"/>
<circle cx="983.5" cy="1911.5" r="16.3" fill="none" stroke="#000" stroke-width="11.4"/>
<circle cx="919.7" cy="1980.7" r="16.3" fill="none" stroke="#000" stroke-width="11.4"/>
<circle cx="857.0" cy="2059.8" r="16.3" fill="none" stroke="#000" stroke-width="11.4"/>
<circle cx="983.5" cy="2061.4" r="16.3" fill="none" stroke="#000" stroke-width="11.4"/>
<circle cx="919.7" cy="2118.1" r="16.3" fill="none" stroke="#000" stroke-width="11.4"/>
<circle cx="919.7" cy="2195.0" r="16.3" fill="none" stroke="#000" stroke-width="11.4"/>
<circle cx="919.7" cy="2280.6" r="16.3" fill="none" stroke="#000" stroke-width="11.4"/>
<path d="M495.5,1625.3H930V1672" stroke="#000" stroke-width="12.5" stroke-linecap="round" stroke-linejoin="round" fill="none"/>
<text class="ss" x="690.4" y="1620.6" font-size="130" font-weight="bold" text-anchor="middle" fill="#000" >*</text>
</g>
<g id="panelD">
<rect x="1826.2" y="1141.2" width="138.5" height="59.3" fill="#00a2ff" stroke="#000" stroke-width="12.5"/>
<text class="sf" transform="translate(2009.5,1209.8) scale(0.975,1)" font-size="114.5" font-weight="bold">Aβ<tspan font-size="90" dy="23.5">1-42</tspan></text>
<path d="M1820,1358V2563" stroke="#000" stroke-width="13" stroke-linecap="round" fill="none"/>
<path d="M1769.3,2556.9H3017" stroke="#000" stroke-width="13" stroke-linecap="round" fill="none"/>
<path d="M1769.3,2556.9H1820" stroke="#000" stroke-width="13" stroke-linecap="round" fill="none"/>
<text class="sf" x="1756.3" y="2588.6" font-size="90" font-weight="bold" text-anchor="end" fill="#000" >0</text>
<path d="M1769.3,2159.6H1820" stroke="#000" stroke-width="13" stroke-linecap="round" fill="none"/>
<text class="sf" x="1756.3" y="2191.3" font-size="90" font-weight="bold" text-anchor="end" fill="#000" >20</text>
<path d="M1769.3,1762.2H1820" stroke="#000" stroke-width="13" stroke-linecap="round" fill="none"/>
<text class="sf" x="1756.3" y="1793.9" font-size="90" font-weight="bold" text-anchor="end" fill="#000" >40</text>
<path d="M1769.3,1364.9H1820" stroke="#000" stroke-width="13" stroke-linecap="round" fill="none"/>
<text class="sf" x="1756.3" y="1396.6" font-size="90" font-weight="bold" text-anchor="end" fill="#000" >60</text>
<text class="sf" transform="translate(1608,2554) rotate(-90) scale(0.957,1)" font-size="100.5" font-weight="bold">Time in target quadrant (%)</text>
<path d="M1904.0,1973.0V2028.0" stroke="#000" stroke-width="11.5" fill="none"/>
<path d="M1870.0,1973.0H1939.6" stroke="#000" stroke-width="11.5" stroke-linecap="round" fill="none"/>
<path d="M2073.7,1987.0V2050.0" stroke="#000" stroke-width="11.5" fill="none"/>
<path d="M2039.0,1987.0H2109.7" stroke="#000" stroke-width="11.5" stroke-linecap="round" fill="none"/>
<path d="M2243.8,1979.0V2040.0" stroke="#000" stroke-width="11.5" fill="none"/>
<path d="M2209.0,1979.0H2278.5" stroke="#000" stroke-width="11.5" stroke-linecap="round" fill="none"/>
<path d="M2583.0,1692.0V1758.0" stroke="#000" stroke-width="11.5" fill="none"/>
<path d="M2549.0,1692.0H2619.0" stroke="#000" stroke-width="11.5" stroke-linecap="round" fill="none"/>
<path d="M2752.8,1967.5V2033.0" stroke="#000" stroke-width="11.5" fill="none"/>
<path d="M2717.6,1967.5H2789.0" stroke="#000" stroke-width="11.5" stroke-linecap="round" fill="none"/>
<path d="M2923.0,2010.0V2064.0" stroke="#000" stroke-width="11.5" fill="none"/>
<path d="M2887.0,2010.0H2958.5" stroke="#000" stroke-width="11.5" stroke-linecap="round" fill="none"/>
<rect x="1841.0" y="2028.2" width="126.7" height="528.8" fill="#00a2ff" stroke="#000" stroke-width="12.5"/>
<rect x="2009.8" y="2050.2" width="127.7" height="506.7" fill="#00a2ff" stroke="#000" stroke-width="12.5"/>
<rect x="2180.2" y="2039.8" width="128.2" height="517.2" fill="#00a2ff" stroke="#000" stroke-width="12.5"/>
<rect x="2518.8" y="1758.2" width="128.9" height="798.7" fill="#00a2ff" stroke="#000" stroke-width="12.5"/>
<rect x="2689.2" y="2033.0" width="128.5" height="523.9" fill="#00a2ff" stroke="#000" stroke-width="12.5"/>
<rect x="2859.1" y="2064.2" width="128.1" height="492.7" fill="#00a2ff" stroke="#000" stroke-width="12.5"/>
<circle cx="1904.0" cy="1870.5" r="12.2" fill="none" stroke="#000" stroke-width="12.2"/>
<circle cx="1963.4" cy="1853.6" r="12.2" fill="none" stroke="#000" stroke-width="12.2"/>
<circle cx="1904.0" cy="1929.5" r="12.2" fill="none" stroke="#000" stroke-width="12.2"/>
<circle cx="1904.0" cy="2014.5" r="12.2" fill="#000" stroke="#000" stroke-width="12.2"/>
<circle cx="1963.4" cy="2012.3" r="12.2" fill="none" stroke="#000" stroke-width="12.2"/>
<circle cx="1904.0" cy="2078.6" r="12.2" fill="none" stroke="#000" stroke-width="12.2"/>
<circle cx="1904.0" cy="2162.0" r="12.2" fill="none" stroke="#000" stroke-width="12.2"/>
<circle cx="1904.0" cy="2256.0" r="12.2" fill="none" stroke="#000" stroke-width="12.2"/>
<circle cx="2073.7" cy="1775.4" r="12.2" fill="none" stroke="#000" stroke-width="12.2"/>
<circle cx="2073.7" cy="1817.9" r="12.2" fill="none" stroke="#000" stroke-width="12.2"/>
<circle cx="2015.6" cy="2068.0" r="12.2" fill="none" stroke="#000" stroke-width="12.2"/>
<circle cx="2073.7" cy="2063.8" r="12.2" fill="none" stroke="#000" stroke-width="12.2"/>
<circle cx="2131.7" cy="2087.5" r="12.2" fill="none" stroke="#000" stroke-width="12.2"/>
<circle cx="2073.7" cy="2132.0" r="12.2" fill="none" stroke="#000" stroke-width="12.2"/>
<circle cx="2073.7" cy="2185.0" r="12.2" fill="none" stroke="#000" stroke-width="12.2"/>
<circle cx="2073.7" cy="2232.0" r="12.2" fill="none" stroke="#000" stroke-width="12.2"/>
<circle cx="2185.3" cy="1838.8" r="12.2" fill="none" stroke="#000" stroke-width="12.2"/>
<circle cx="2243.3" cy="1863.4" r="12.2" fill="none" stroke="#000" stroke-width="12.2"/>
<circle cx="2302.5" cy="1856.5" r="12.2" fill="none" stroke="#000" stroke-width="12.2"/>
<circle cx="2302.0" cy="2069.0" r="12.2" fill="none" stroke="#000" stroke-width="12.2"/>
<circle cx="2243.3" cy="2087.0" r="12.2" fill="none" stroke="#000" stroke-width="12.2"/>
<circle cx="2186.0" cy="2148.7" r="12.2" fill="none" stroke="#000" stroke-width="12.2"/>
<circle cx="2243.3" cy="2162.0" r="12.2" fill="none" stroke="#000" stroke-width="12.2"/>
<circle cx="2243.3" cy="2249.0" r="12.2" fill="none" stroke="#000" stroke-width="12.2"/>
<circle cx="2524.7" cy="1572.3" r="12.2" fill="none" stroke="#000" stroke-width="12.2"/>
<circle cx="2583.0" cy="1588.4" r="12.2" fill="none" stroke="#000" stroke-width="12.2"/>
<circle cx="2642.0" cy="1585.7" r="12.2" fill="none" stroke="#000" stroke-width="12.2"/>
<circle cx="2524.7" cy="1712.0" r="12.2" fill="none" stroke="#000" stroke-width="12.2"/>
<circle cx="2583.0" cy="1712.0" r="12.2" fill="#000" stroke="#000" stroke-width="12.2"/>
<circle cx="2583.0" cy="1908.5" r="12.2" fill="none" stroke="#000" stroke-width="12.2"/>
<circle cx="2583.0" cy="1944.2" r="12.2" fill="none" stroke="#000" stroke-width="12.2"/>
<circle cx="2583.0" cy="1982.5" r="12.2" fill="none" stroke="#000" stroke-width="12.2"/>
<circle cx="2752.8" cy="1768.8" r="12.2" fill="none" stroke="#000" stroke-width="12.2"/>
<circle cx="2752.8" cy="1834.8" r="12.2" fill="none" stroke="#000" stroke-width="12.2"/>
<circle cx="2752.8" cy="1870.5" r="12.2" fill="none" stroke="#000" stroke-width="12.2"/>
<circle cx="2752.8" cy="2083.0" r="12.2" fill="none" stroke="#000" stroke-width="12.2"/>
<circle cx="2694.8" cy="2123.0" r="12.2" fill="none" stroke="#000" stroke-width="12.2"/>
<circle cx="2752.8" cy="2139.7" r="12.2" fill="none" stroke="#000" stroke-width="12.2"/>
<circle cx="2752.8" cy="2171.9" r="12.2" fill="none" stroke="#000" stroke-width="12.2"/>
<circle cx="2752.8" cy="2221.4" r="12.2" fill="none" stroke="#000" stroke-width="12.2"/>
<circle cx="2923.0" cy="1830.4" r="12.2" fill="none" stroke="#000" stroke-width="12.2"/>
<circle cx="2923.0" cy="1903.0" r="12.2" fill="none" stroke="#000" stroke-width="12.2"/>
<circle cx="2923.0" cy="1983.0" r="12.2" fill="none" stroke="#000" stroke-width="12.2"/>
<circle cx="2923.0" cy="2086.0" r="12.2" fill="none" stroke="#000" stroke-width="12.2"/>
<circle cx="2981.4" cy="2133.0" r="12.2" fill="none" stroke="#000" stroke-width="12.2"/>
<circle cx="2923.0" cy="2142.0" r="12.2" fill="none" stroke="#000" stroke-width="12.2"/>
<circle cx="2923.0" cy="2182.0" r="12.2" fill="none" stroke="#000" stroke-width="12.2"/>
<circle cx="2923.0" cy="2207.6" r="12.2" fill="none" stroke="#000" stroke-width="12.2"/>
<path d="M1886,1543V1484H2595V1543" stroke="#000" stroke-width="12" stroke-linecap="round" stroke-linejoin="miter" fill="none"/>
<path d="M2596,1452V1393H2923V1452" stroke="#000" stroke-width="12" stroke-linecap="round" stroke-linejoin="miter" fill="none"/>
<path d="M2570.7,1688V1622H2779V1681" stroke="#000" stroke-width="12" stroke-linecap="round" stroke-linejoin="miter" fill="none"/>
<text class="ss" x="2230.0" y="1494.3" font-size="150" font-weight="bold" text-anchor="middle" fill="#000" >*</text>
<text class="sf" x="2763.0" y="1364.0" font-size="98" font-weight="bold" text-anchor="middle" fill="#000" stroke="#000" stroke-width="3.4">##</text>
<text class="sf" x="2671.0" y="1570.0" font-size="98" font-weight="bold" text-anchor="middle" fill="#000" stroke="#000" stroke-width="3.4">#</text>
<text class="sf" x="1525.0" y="2647.8" font-size="75" font-weight="bold" text-anchor="start" fill="#000" >Curcumin</text>
<text class="sf" x="1525.0" y="2739.3" font-size="75" font-weight="bold" text-anchor="start" fill="#000" >MSAB</text>
<text class="sf" x="1525.0" y="2829.0" font-size="75" font-weight="bold" text-anchor="start" fill="#000" >Fc</text>
<text class="sf" x="2587.0" y="2650.8" font-size="85" font-weight="normal" text-anchor="middle" fill="#000" stroke="#000" stroke-width="0.9">+</text>
<text class="sf" x="2760.4" y="2650.8" font-size="85" font-weight="normal" text-anchor="middle" fill="#000" stroke="#000" stroke-width="0.9">+</text>
<text class="sf" x="2933.6" y="2650.8" font-size="85" font-weight="normal" text-anchor="middle" fill="#000" stroke="#000" stroke-width="0.9">+</text>
<text class="sf" x="2081.8" y="2742.2" font-size="85" font-weight="normal" text-anchor="middle" fill="#000" stroke="#000" stroke-width="0.9">+</text>
<text class="sf" x="2761.7" y="2742.2" font-size="85" font-weight="normal" text-anchor="middle" fill="#000" stroke="#000" stroke-width="0.9">+</text>
<text class="sf" x="2245.0" y="2832.0" font-size="85" font-weight="normal" text-anchor="middle" fill="#000" stroke="#000" stroke-width="0.9">+</text>
<text class="sf" x="2943.0" y="2832.0" font-size="85" font-weight="normal" text-anchor="middle" fill="#000" stroke="#000" stroke-width="0.9">+</text>
</g>
</svg>
</body></html>
